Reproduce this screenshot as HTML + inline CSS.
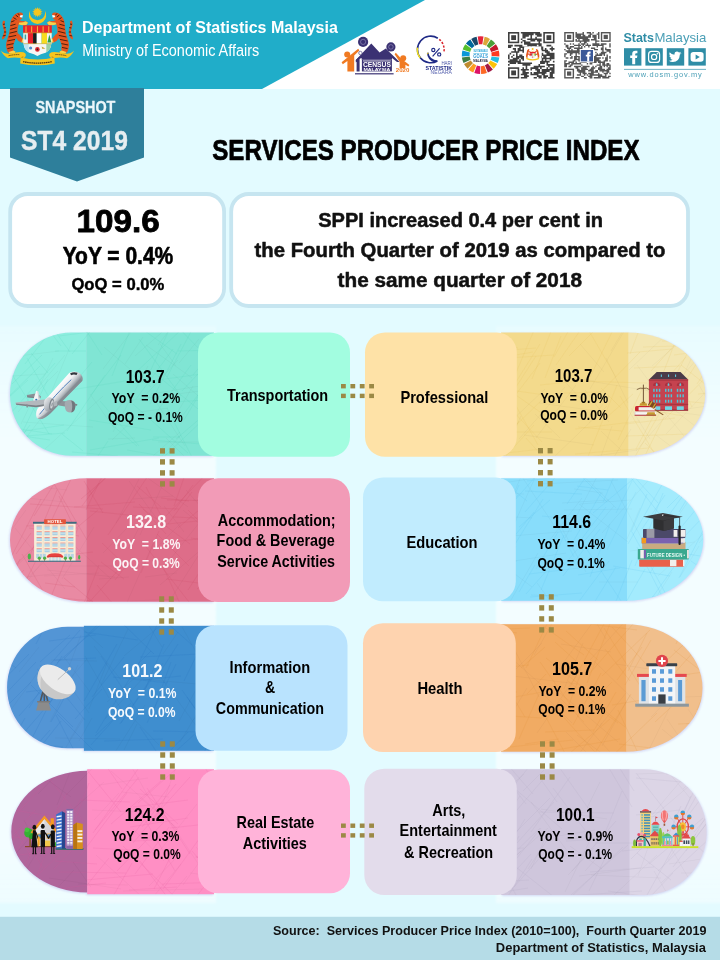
<!DOCTYPE html>
<html><head><meta charset="utf-8"><title>Services Producer Price Index</title>
<style>
html,body{margin:0;padding:0;background:#e3fbff;}
body{width:720px;height:960px;overflow:hidden;}
svg{display:block;font-family:"Liberation Sans", sans-serif;}
text{font-family:"Liberation Sans", sans-serif;}
</style></head><body>
<svg width="720" height="960" viewBox="0 0 720 960">
<g opacity="0.999">
<defs>
<filter id="soft" x="-10%" y="-20%" width="120%" height="140%"><feGaussianBlur stdDeviation="3"/></filter>
<filter id="soft2" x="-10%" y="-20%" width="120%" height="140%"><feGaussianBlur stdDeviation="1.3"/></filter>
<linearGradient id="strip" x1="0" y1="0" x2="0" y2="1"><stop offset="0" stop-color="#fff" stop-opacity="0.18"/><stop offset="0.2" stop-color="#fff" stop-opacity="0.58"/><stop offset="0.9" stop-color="#fff" stop-opacity="0.58"/><stop offset="1" stop-color="#fff" stop-opacity="0.4"/></linearGradient>
</defs>
<rect x="0" y="0" width="720" height="960" fill="#e3fbff"/>
<rect x="0" y="0" width="720" height="89" fill="#ffffff"/>
<polygon points="0,0 425,0 262,89 0,89" fill="#20adc9"/>
<text x="82.00" y="32.5" font-size="17" font-weight="bold" fill="#fff" textLength="255.90" lengthAdjust="spacingAndGlyphs" xml:space="preserve">Department of Statistics Malaysia</text>
<text x="82.18" y="55.7" font-size="16.7" font-weight="normal" fill="#fff" textLength="177.07" lengthAdjust="spacingAndGlyphs" xml:space="preserve">Ministry of Economic Affairs</text>
<polygon points="10,88 144,88 144,157.5 77,181.5 10,157.5" fill="#2e7f9b"/>
<text x="35.43" y="112.5" font-size="16.7" font-weight="bold" fill="#eaf6fa" stroke="#eaf6fa" stroke-width="0.3" stroke-linejoin="round" textLength="79.95" lengthAdjust="spacingAndGlyphs" xml:space="preserve">SNAPSHOT</text>
<text x="21.12" y="149.6" font-size="26.8" font-weight="bold" fill="#e6eef1" stroke="#e6eef1" stroke-width="0.4" stroke-linejoin="round" textLength="106.80" lengthAdjust="spacingAndGlyphs" xml:space="preserve">ST4 2019</text>
<text x="212.27" y="160" font-size="29.4" font-weight="bold" fill="#000" stroke="#000" stroke-width="0.7" stroke-linejoin="round" textLength="427.26" lengthAdjust="spacingAndGlyphs" xml:space="preserve">SERVICES PRODUCER PRICE INDEX</text>
<rect x="10.2" y="194" width="213.9" height="112" rx="17.5" fill="#fff" stroke="#c6e5f0" stroke-width="3.8"/>
<rect x="231.2" y="194" width="456.8" height="112" rx="17.5" fill="#fff" stroke="#c6e5f0" stroke-width="3.8"/>
<text x="76.62" y="232.3" font-size="30.6" font-weight="bold" fill="#000" stroke="#000" stroke-width="0.8" stroke-linejoin="round" textLength="83.10" lengthAdjust="spacingAndGlyphs" xml:space="preserve">109.6</text>
<text x="62.67" y="264.3" font-size="23.8" font-weight="bold" fill="#000" stroke="#000" stroke-width="0.6" stroke-linejoin="round" textLength="110.62" lengthAdjust="spacingAndGlyphs" xml:space="preserve">YoY = 0.4%</text>
<text x="71.41" y="290.3" font-size="17.4" font-weight="bold" fill="#000" stroke="#000" stroke-width="0.45" stroke-linejoin="round" textLength="92.91" lengthAdjust="spacingAndGlyphs" xml:space="preserve">QoQ = 0.0%</text>
<text x="318.24" y="226.7" font-size="20" font-weight="bold" fill="#111" stroke="#111" stroke-width="0.5" stroke-linejoin="round" textLength="284.78" lengthAdjust="spacingAndGlyphs" xml:space="preserve">SPPI increased 0.4 per cent in</text>
<text x="254.55" y="256.8" font-size="20" font-weight="bold" fill="#111" stroke="#111" stroke-width="0.5" stroke-linejoin="round" textLength="410.86" lengthAdjust="spacingAndGlyphs" xml:space="preserve">the Fourth Quarter of 2019 as compared to</text>
<text x="337.55" y="287" font-size="20" font-weight="bold" fill="#111" stroke="#111" stroke-width="0.5" stroke-linejoin="round" textLength="244.42" lengthAdjust="spacingAndGlyphs" xml:space="preserve">the same quarter of 2018</text>
<rect x="-10" y="326" width="226" height="577" fill="url(#strip)" filter="url(#soft2)"/>
<rect x="496" y="326" width="234" height="577" fill="url(#strip)" filter="url(#soft2)"/>
<g filter="url(#soft2)" opacity="0.42" fill="#a9a3e6" transform="translate(-0.9 0.9)"><path d="M86.7,332.5 L71.65,332.5 A61.65,61.65 0 0 0 71.65,455.8 L86.7,455.8 Z"/><rect x="86.4" y="332.5" width="127.6" height="123.30000000000001"/></g>
<clipPath id="cL0"><path d="M86.7,332.5 L71.65,332.5 A61.65,61.65 0 0 0 71.65,455.8 L86.7,455.8 Z"/><rect x="86.4" y="332.5" width="127.6" height="123.30000000000001"/></clipPath>
<path d="M86.7,332.5 L71.65,332.5 A61.65,61.65 0 0 0 71.65,455.8 L86.7,455.8 Z" fill="#8deedf"/><rect x="86.4" y="332.5" width="127.6" height="123.30000000000001" fill="#80e5d4"/>
<g clip-path="url(#cL0)"><path d="M10,414L55,363M8,398L28,380M178,351L252,349M90,450L159,438M16,435L50,440M8,368L49,434M136,399L173,349M152,440L213,445M193,375L211,353M133,404L188,453M59,336L90,332M149,374L175,317M132,376L182,329M-6,361L24,356M91,395L121,355M167,377L204,307M26,439L59,472M43,322L61,346M62,434L83,451M173,402L206,400M27,358L51,401M-7,412L40,366M184,420L203,388M1,464L30,425M112,425L137,446M128,384L202,374M182,391L227,343M112,376L134,320M202,439L226,392M131,321L177,354M12,384L42,355M22,433L48,379M55,351L86,351M153,437L180,437M197,352L246,351M47,320L70,352M2,426L52,434M170,319L206,356M156,413L191,365M150,404L181,344M31,353L48,373M80,321L102,355M176,439L210,410M89,420L151,430M100,401L139,446M25,364L57,323M204,410L239,380M94,462L108,441M153,372L203,413M72,354L102,317M-1,438L65,433M67,431L105,375M-4,407L13,364M183,415L218,368M72,452L118,456M53,393L131,380M-9,436L64,425M150,470L205,418M167,408L197,467M200,379L218,351M59,401L92,362M139,339L181,396M-6,399L19,360M127,450L191,461" stroke="#48cdb8" stroke-width="0.6" fill="none" opacity="0.25"/><path d="M-6,359L59,351M90,394L114,428M114,413L132,393M158,345L174,324M-4,377L45,374M160,344L176,366M156,402L185,446M140,401L178,360M18,412L65,355M112,440L134,419M-2,474L46,412M173,374L220,415M103,369L147,311M45,449L103,396M151,394L212,384M140,412L168,408M193,311L239,363M135,356L169,326M7,450L26,431M44,410L72,342M104,347L151,387M179,363L199,339M-9,399L9,423M146,345L192,378M173,420L193,386M144,464L180,432M108,439L135,438M154,465L181,435M34,395L58,371M158,442L218,442M21,424L53,358M113,432L148,366M132,400L200,391M166,438L195,467M23,422L93,427M125,364L143,337" stroke="#201030" stroke-width="0.6" fill="none" opacity="0.05"/></g>
<rect x="198" y="332.5" width="152" height="124.25" rx="20" fill="#a2fde0"/>
<g filter="url(#soft2)" opacity="0.42" fill="#a9a3e6" transform="translate(0.9 0.9)"><path d="M628,332.5 A77.30,61.65 0 0 1 705.3,394.15 A77.30,61.65 0 0 1 628,455.8 Z"/><rect x="501" y="332.5" width="127.3" height="123.30000000000001"/></g>
<clipPath id="cR0"><path d="M628,332.5 A77.30,61.65 0 0 1 705.3,394.15 A77.30,61.65 0 0 1 628,455.8 Z"/><rect x="501" y="332.5" width="127.3" height="123.30000000000001"/></clipPath>
<path d="M628,332.5 A77.30,61.65 0 0 1 705.3,394.15 A77.30,61.65 0 0 1 628,455.8 Z" fill="#f3e6b2"/><rect x="501" y="332.5" width="127.3" height="123.30000000000001" fill="#f3da8c"/>
<g clip-path="url(#cR0)"><path d="M470,363L533,352M626,424L675,418M556,365L584,325M677,377L692,407M651,371L688,330M681,365L744,415M591,402L640,352M510,387L535,328M639,408L683,416M526,438L551,466M645,443L664,461M510,350L536,348M606,418L633,394M626,436L689,434M481,344L518,348M487,477L534,425M482,477L519,421M532,379L556,319M674,355L726,348M495,432L552,432M627,353L672,349M578,427L622,431M503,386L550,419M575,454L649,448M545,378L561,336M511,397L538,445M477,360L554,355M590,377L614,328M682,401L714,404M655,394L674,345M540,385L589,380M698,394L729,391M618,440L643,387M589,331L616,377M506,453L542,449M628,469L667,400M574,381L647,383M494,423L540,363M569,356L610,315M482,411L509,348M636,449L671,383M507,396L540,344M697,384L719,351M665,419L718,365M633,480L664,417M482,386L545,395M508,406L542,442M488,408L508,432M505,404L536,356M634,368L680,366M667,392L688,352M643,347L676,346M662,341L728,341M630,354L641,325M620,396L656,456M601,388L621,408M663,383L686,357M564,393L601,392M683,385L722,323M587,459L617,385M671,452L706,417M511,430L546,396M575,429L640,421M554,357L580,310" stroke="#e2bd50" stroke-width="0.6" fill="none" opacity="0.25"/><path d="M636,451L666,416M539,403L597,411M535,414L560,438M611,351L624,329M629,370L670,331M699,385L728,436M659,413L721,404M590,389L629,323M601,431L621,450M644,387L684,436M652,366L708,318M580,344L604,372M631,408L650,439M600,480L631,429M567,377L594,381M637,365L666,404M519,439L565,387M589,381L650,391M536,438L576,385M552,459L607,406M524,435L594,445M508,424L545,389M666,434L716,381M553,369L580,398M682,379L699,341M606,358L628,403M585,390L609,422M581,458L637,450M597,467L612,426M490,488L521,416M656,435L698,467M644,418L666,385M667,404L709,437M677,382L698,358M589,423L609,396M661,410L706,416" stroke="#201030" stroke-width="0.6" fill="none" opacity="0.05"/></g>
<rect x="365" y="332.5" width="151.79999999999995" height="124.25" rx="20" fill="#fee2a7"/>
<g filter="url(#soft2)" opacity="0.42" fill="#a9a3e6" transform="translate(-0.9 0.9)"><path d="M86.7,478.3 A76.70,61.70 0 0 0 10,540.00 A76.70,61.70 0 0 0 86.7,601.7 Z"/><rect x="86.4" y="478.3" width="127.6" height="123.40000000000003"/></g>
<clipPath id="cL1"><path d="M86.7,478.3 A76.70,61.70 0 0 0 10,540.00 A76.70,61.70 0 0 0 86.7,601.7 Z"/><rect x="86.4" y="478.3" width="127.6" height="123.40000000000003"/></clipPath>
<path d="M86.7,478.3 A76.70,61.70 0 0 0 10,540.00 A76.70,61.70 0 0 0 86.7,601.7 Z" fill="#e98aa3"/><rect x="86.4" y="478.3" width="127.6" height="123.40000000000003" fill="#de6d89"/>
<g clip-path="url(#cL1)"><path d="M108,535L152,470M172,542L239,534M147,526L198,521M74,507L135,502M34,516L69,460M68,535L98,510M64,578L118,623M167,500L222,501M166,516L210,470M178,528L236,478M188,510L208,530M139,504L166,534M38,549L72,477M168,524L192,492M51,597L78,528M137,486L161,507M102,543L128,568M29,528L79,536M86,510L110,460M-18,615L24,570M-4,612L20,559M22,588L44,545M197,589L242,548M89,496L112,470M16,554L31,533M10,580L39,620M82,506L99,483M22,554L52,607M133,507L179,509M73,620L123,565M53,482L87,540M163,567L184,612M4,576L37,544M26,526L78,524M28,595L93,601M30,504L103,509M35,559L93,552M143,509L190,544M166,579L199,583M143,543L189,602M174,511L193,485M115,580L133,557M97,585L119,611M174,506L187,469M188,590L231,523M157,534L189,566M191,538L238,546M7,565L41,499M8,520L48,457M101,562L124,579M161,498L189,501M146,487L167,527M173,517L221,519M-13,485L31,490M59,496L75,529M45,583L75,587M141,573L159,531M81,499L113,472M210,598L227,575M90,511L147,517M75,626L99,565M84,481L103,513M28,560L57,490M-2,524L41,482" stroke="#c8405f" stroke-width="0.6" fill="none" opacity="0.25"/><path d="M62,579L94,527M186,490L210,517M162,613L198,556M140,535L163,484M127,463L188,507M39,487L67,490M-1,606L51,555M128,549L144,518M-3,518L36,473M125,607L155,539M164,506L184,532M116,523L139,479M26,577L61,573M208,539L226,505M193,500L231,501M15,528L65,589M183,510L232,551M17,595L45,558M160,585L203,548M47,570L115,577M21,581L46,612M130,601L178,599M99,579L129,577M145,577L177,573M153,551L181,523M57,530L111,579M62,566L140,566M133,499L173,496M8,574L27,556M-12,575L16,576M7,536L26,510M168,562L207,513M-13,494L65,502M129,481L157,519M44,576L99,573M103,553L128,527" stroke="#201030" stroke-width="0.6" fill="none" opacity="0.05"/></g>
<rect x="198" y="478.25" width="152" height="123.75" rx="20" fill="#f29bb7"/>
<g filter="url(#soft2)" opacity="0.42" fill="#a9a3e6" transform="translate(0.9 0.9)"><path d="M626.7,478.3 A76.60,61.25 0 0 1 703.3,539.55 A76.60,61.25 0 0 1 626.7,600.8 Z"/><rect x="501" y="478.3" width="126.00000000000004" height="122.49999999999994"/></g>
<clipPath id="cR1"><path d="M626.7,478.3 A76.60,61.25 0 0 1 703.3,539.55 A76.60,61.25 0 0 1 626.7,600.8 Z"/><rect x="501" y="478.3" width="126.00000000000004" height="122.49999999999994"/></clipPath>
<path d="M626.7,478.3 A76.60,61.25 0 0 1 703.3,539.55 A76.60,61.25 0 0 1 626.7,600.8 Z" fill="#a3ebfd"/><rect x="501" y="478.3" width="126.00000000000004" height="122.49999999999994" fill="#88ddfb"/>
<g clip-path="url(#cR1)"><path d="M499,508L513,529M574,608L609,561M679,591L705,592M620,461L658,503M578,575L620,568M635,566L663,493M536,569L558,532M590,577L610,524M652,597L679,594M650,573L677,527M519,592L535,565M663,550L731,561M616,513L632,481M531,595L558,596M649,543L689,487M519,527L550,500M679,512L717,449M603,502L615,474M683,616L727,562M471,500L511,503M574,540L601,493M567,504L592,468M697,564L719,539M668,619L716,561M530,597L582,593M525,491L582,494M579,474L607,502M512,549L543,499M667,508L688,487M593,513L645,469M529,574L596,566M613,609L632,560M542,516L569,519M563,576L600,529M527,481L565,476M631,532L647,494M526,594L549,568M617,618L645,569M498,533L519,485M691,561L724,584M695,503L717,477M679,578L709,519M582,542L623,604M496,522L542,469M684,537L703,517M642,529L665,495M508,544L534,512M554,518L574,557M577,486L608,490M613,566L670,576M491,594L512,558M647,605L676,564M628,474L669,526M577,545L606,507M575,634L616,567M632,532L668,598M607,550L636,492M478,462L527,501M541,590L564,535M628,544L663,483M476,548L518,495M669,542L697,508M525,512L567,464M637,547L664,600" stroke="#4fbdea" stroke-width="0.6" fill="none" opacity="0.25"/><path d="M539,484L618,480M512,498L527,462M602,533L653,475M549,541L582,498M562,503L609,500M563,456L616,508M554,514L586,572M488,607L516,546M680,577L699,546M462,492L524,494M580,504L631,500M481,515L532,518M611,481L643,541M700,521L719,487M658,576L716,522M647,612L672,572M490,566L517,561M579,504L628,542M599,582L638,582M574,489L603,493M519,472L555,527M490,555L532,587M507,607L538,553M514,561L566,553M668,531L689,500M564,565L614,506M512,529L542,462M458,489L537,478M564,510L632,509M537,583L556,609M482,592L500,548M630,551L695,542M565,538L600,471M627,539L640,508M699,543L717,523M511,536L572,531" stroke="#201030" stroke-width="0.6" fill="none" opacity="0.05"/></g>
<rect x="363" y="477.5" width="152.79999999999995" height="123.75" rx="20" fill="#c1ecfe"/>
<g filter="url(#soft2)" opacity="0.42" fill="#a9a3e6" transform="translate(-0.9 0.9)"><path d="M84.2,626.7 L67.80,626.7 A60.80,60.80 0 0 0 67.80,748.3 L84.2,748.3 Z"/><rect x="83.9" y="625.8" width="130.10000000000002" height="125.0"/></g>
<clipPath id="cL2"><path d="M84.2,626.7 L67.80,626.7 A60.80,60.80 0 0 0 67.80,748.3 L84.2,748.3 Z"/><rect x="83.9" y="625.8" width="130.10000000000002" height="125.0"/></clipPath>
<path d="M84.2,626.7 L67.80,626.7 A60.80,60.80 0 0 0 67.80,748.3 L84.2,748.3 Z" fill="#5395d5"/><rect x="83.9" y="625.8" width="130.10000000000002" height="125.0" fill="#3f8ecf"/>
<g clip-path="url(#cL2)"><path d="M19,716L42,690M147,723L176,664M3,644L29,620M92,697L124,657M95,736L131,703M113,677L168,683M121,723L163,663M104,741L163,739M201,657L222,637M29,708L62,656M-17,644L16,668M143,680L181,676M24,754L55,693M182,690L218,741M40,676L80,630M91,745L118,715M140,727L158,754M101,656L139,713M184,681L219,609M198,651L231,609M209,708L221,681M187,697L224,749M157,677L178,644M144,692L164,644M-27,711L29,654M193,775L221,718M40,662L70,635M130,672L151,651M36,644L52,613M203,766L235,729M153,712L171,662M49,641L96,635M37,744L63,747M96,733L130,678M84,632L138,640M57,714L107,764M51,722L66,695M64,659L106,616M40,665L85,720M15,779L61,721M171,750L188,732M120,724L152,677M21,736L67,683M84,701L117,644M-6,772L25,718M31,685L73,727M120,621L154,654M163,763L219,712M-25,738L31,682M183,774L239,722M57,663L107,619M-17,742L31,741M-10,710L36,662M153,731L205,732M26,757L50,730M140,657L219,653M75,719L102,689M26,692L73,686M136,669L157,625M212,687L235,628M37,669L62,688M56,715L85,772M54,660L96,658M157,614L192,645" stroke="#1f6cbd" stroke-width="0.6" fill="none" opacity="0.25"/><path d="M55,738L120,739M85,656L109,698M138,608L162,647M200,661L237,662M-10,625L21,629M44,783L84,718M64,657L90,692M182,627L208,673M45,708L87,659M159,675L200,731M69,741L83,717M180,742L201,707M179,721L213,658M-11,752L10,714M163,654L178,632M0,725L41,668M68,683L89,713M105,719L145,676M19,672L39,647M103,771L145,705M110,692L125,715M59,693L81,635M79,741L92,718M130,678L197,684M193,720L229,689M124,750L137,724M89,709L107,663M127,712L159,745M50,722L78,665M101,685L128,629M51,660L97,661M107,702L137,676M94,646L121,680M60,608L103,648M200,693L245,697M124,656L161,625" stroke="#201030" stroke-width="0.6" fill="none" opacity="0.05"/></g>
<rect x="195.5" y="625.25" width="152.0" height="125.5" rx="20" fill="#b9e3fe"/>
<g filter="url(#soft2)" opacity="0.42" fill="#a9a3e6" transform="translate(0.9 0.9)"><path d="M625.8,624.2 A76.70,63.75 0 0 1 702.5,687.95 A76.70,63.75 0 0 1 625.8,751.7 Z"/><rect x="501" y="624.2" width="125.09999999999995" height="127.5"/></g>
<clipPath id="cR2"><path d="M625.8,624.2 A76.70,63.75 0 0 1 702.5,687.95 A76.70,63.75 0 0 1 625.8,751.7 Z"/><rect x="501" y="624.2" width="125.09999999999995" height="127.5"/></clipPath>
<path d="M625.8,624.2 A76.70,63.75 0 0 1 702.5,687.95 A76.70,63.75 0 0 1 625.8,751.7 Z" fill="#f1bf8c"/><rect x="501" y="624.2" width="125.09999999999995" height="127.5" fill="#f1ab63"/>
<g clip-path="url(#cR2)"><path d="M636,707L684,706M481,691L517,692M543,626L584,655M570,753L610,719M493,673L507,642M570,687L605,622M678,724L736,721M504,699L548,691M605,649L630,681M688,737L733,678M519,739L539,694M607,761L657,713M527,694L546,674M663,782L696,713M590,624L637,630M654,679L725,669M590,704L612,682M676,740L727,687M696,736L714,705M510,747L573,740M474,627L517,633M458,631L530,628M561,699L584,722M655,722L682,697M540,706L568,759M555,642L576,661M612,627L646,664M589,674L633,624M684,755L727,709M485,733L499,757M568,707L581,673M480,670L529,665M487,630L502,657M625,685L651,640M545,732L594,730M568,681L625,727M676,644L687,616M595,706L618,723M618,710L651,781M472,663L513,728M566,631L598,660M510,716L542,718M521,668L545,647M556,750L620,739M617,680L642,647M559,712L610,769M656,671L707,622M573,725L601,673M546,658L590,693M525,744L559,739M587,683L611,621M593,732L616,692M612,705L666,696M697,710L721,652M665,684L703,641M526,668L547,624M674,650L727,691M540,662L579,717M602,676L650,630M619,744L675,751M592,758L631,694M604,628L642,689M628,671L647,633M509,691L525,717" stroke="#e08a30" stroke-width="0.6" fill="none" opacity="0.25"/><path d="M513,676L578,684M636,776L670,707M667,719L699,766M662,729L703,763M496,709L512,667M537,733L581,669M686,724L724,721M577,716L622,765M566,732L600,766M651,717L688,679M602,746L630,695M684,759L722,710M654,698L714,696M560,693L618,742M616,664L690,675M508,637L539,697M594,661L637,703M494,643L545,688M579,754L602,723M561,666L593,622M497,738L527,688M577,735L622,768M483,699L502,667M499,686L542,643M667,759L709,706M564,689L583,643M701,727L721,767M590,660L638,607M688,709L710,741M593,617L606,639M686,744L724,682M534,655L556,617M561,644L611,652M544,695L572,723M672,598L713,653M600,726L626,693" stroke="#201030" stroke-width="0.6" fill="none" opacity="0.05"/></g>
<rect x="363" y="623.25" width="152.79999999999995" height="128.75" rx="20" fill="#fed3af"/>
<g filter="url(#soft2)" opacity="0.42" fill="#a9a3e6" transform="translate(-0.9 0.9)"><path d="M87.5,770.8 A76.20,60.85 0 0 0 11.3,831.65 A76.20,60.85 0 0 0 87.5,892.5 Z"/><rect x="87.2" y="769.2" width="126.8" height="125.0"/></g>
<clipPath id="cL3"><path d="M87.5,770.8 A76.20,60.85 0 0 0 11.3,831.65 A76.20,60.85 0 0 0 87.5,892.5 Z"/><rect x="87.2" y="769.2" width="126.8" height="125.0"/></clipPath>
<path d="M87.5,770.8 A76.20,60.85 0 0 0 11.3,831.65 A76.20,60.85 0 0 0 87.5,892.5 Z" fill="#b0659b"/><rect x="87.2" y="769.2" width="126.8" height="125.0" fill="#ff8fc4"/>
<g clip-path="url(#cL3)"><path d="M198,850L241,802M133,843L161,810M-20,885L42,893M18,855L85,848M163,889L207,828M140,789L178,824M11,900L35,842M142,827L176,784M33,887L48,846M38,842L67,793M133,835L170,785M7,809L76,820M68,839L89,783M59,872L126,873M46,855L69,814M80,856L127,793M98,754L122,789M135,874L169,827M85,880L153,874M201,781L242,780M140,861L186,922M5,846L35,810M103,914L132,863M-10,869L42,912M133,807L188,800M55,861L97,864M147,788L190,854M202,841L218,804M123,846L180,902M154,889L172,854M141,813L175,871M192,851L219,882M111,824L161,781M117,871L164,822M-17,833L30,839M-22,829L30,769M130,827L188,818M132,841L161,840M54,869L71,851M208,846L224,866M-11,844L35,878M12,899L59,855M158,808L179,832M162,884L227,882M129,890L177,887M188,907L215,873M138,803L185,761M61,917L109,858M93,833L138,769M35,761L84,822M-7,795L31,856M202,762L228,809M82,764L121,812M152,819L190,777M80,800L130,802M196,857L229,862M16,852L34,824M170,828L226,822M93,848L130,850M32,892L106,883M30,846L43,868M95,830L139,777M8,823L41,788M59,842L81,798" stroke="#e0569a" stroke-width="0.6" fill="none" opacity="0.25"/><path d="M96,855L141,896M49,781L71,797M92,810L140,812M111,771L167,820M196,847L239,896M70,812L104,782M78,884L128,885M22,787L40,767M-3,833L22,768M136,917L181,864M94,820L119,793M158,853L197,804M38,794L81,749M57,805L72,767M123,891L202,889M11,795L22,772M171,823L203,871M122,792L169,797M133,829L164,861M190,873L222,877M167,900L187,876M66,795L113,748M73,862L91,887M50,896L74,870M24,820L40,852M99,785L148,778M25,872L44,840M195,857L250,857M49,878L121,889M149,886L177,857M198,864L234,833M-0,872L37,829M183,885L215,840M161,808L182,751M139,797L177,828M131,766L156,810" stroke="#201030" stroke-width="0.6" fill="none" opacity="0.05"/></g>
<rect x="198" y="769.5" width="152" height="123.70000000000005" rx="20" fill="#ffb3d9"/>
<g filter="url(#soft2)" opacity="0.42" fill="#a9a3e6" transform="translate(0.9 0.9)"><path d="M629.2,769.2 L643.80,769.2 A62.90,62.90 0 0 1 643.80,895 L629.2,895 Z"/><rect x="501" y="769.2" width="128.50000000000006" height="125.79999999999995"/></g>
<clipPath id="cR3"><path d="M629.2,769.2 L643.80,769.2 A62.90,62.90 0 0 1 643.80,895 L629.2,895 Z"/><rect x="501" y="769.2" width="128.50000000000006" height="125.79999999999995"/></clipPath>
<path d="M629.2,769.2 L643.80,769.2 A62.90,62.90 0 0 1 643.80,895 L629.2,895 Z" fill="#dcd5e6"/><rect x="501" y="769.2" width="128.50000000000006" height="125.79999999999995" fill="#cfc6dc"/>
<g clip-path="url(#cR3)"><path d="M492,896L531,854M637,853L671,880M595,843L645,843M542,781L557,802M487,879L525,819M507,860L554,897M531,832L570,777M570,896L628,845M631,859L664,826M500,879L541,828M511,817L546,776M690,884L743,891M499,910L532,859M661,883L709,839M677,830L710,772M458,851L524,848M501,757L533,794M693,842L728,875M496,858L530,921M495,853L550,798M539,812L614,813M565,896L642,891M514,887L545,852M605,833L622,791M514,788L562,829M673,867L711,818M702,899L728,874M680,914L712,867M523,791L558,756M666,774L692,772M667,838L681,806M491,758L526,804M510,857L540,828M567,901L623,847M701,803L713,777M636,815L680,810M676,826L706,768M691,758L742,813M622,851L673,846M658,871L696,834M552,757L588,808M609,751L634,791M677,829L691,796M608,891L656,898M482,824L529,767M690,813L731,759M553,788L585,830M636,778L694,783M572,871L616,821M606,763L632,807M694,832L724,798M590,872L654,867M649,864L703,818M566,841L606,839M466,884L529,880M636,773L682,832M649,898L673,873M686,851L706,824M463,904L521,851M641,906L673,848M493,884L519,836M589,891L607,854M454,900L528,888M517,843L554,802" stroke="#a99fba" stroke-width="0.6" fill="none" opacity="0.25"/><path d="M469,822L524,774M637,774L695,772M648,816L674,819M528,869L551,834M681,873L743,873M691,878L720,910M497,872L548,828M531,869L549,830M531,802L568,852M694,837L727,781M682,779L716,807M648,821L689,786M591,875L661,878M579,876L640,868M669,864L708,858M700,795L713,766M652,815L694,765M484,825L511,797M570,846L602,869M541,809L607,819M638,876L657,822M611,898L657,855M587,808L600,782M565,892L593,834M699,865L731,830M683,789L708,764M664,767L690,798M654,871L669,897M568,875L594,848M565,839L610,837M660,829L689,879M558,836L595,830M691,925L726,857M668,860L693,824M496,831L520,796M585,871L605,849" stroke="#201030" stroke-width="0.6" fill="none" opacity="0.05"/></g>
<rect x="364.3" y="768.75" width="152.49999999999994" height="126.25" rx="20" fill="#e3dceb"/>
<rect x="160.0" y="448.2" width="5" height="5.4" fill="#9b8945"/><rect x="169.6" y="448.2" width="5" height="5.4" fill="#9b8945"/><rect x="160.0" y="459.2" width="5" height="5.4" fill="#9b8945"/><rect x="169.6" y="459.2" width="5" height="5.4" fill="#9b8945"/><rect x="160.0" y="470.2" width="5" height="5.4" fill="#9b8945"/><rect x="169.6" y="470.2" width="5" height="5.4" fill="#9b8945"/><rect x="160.0" y="481.2" width="5" height="5.4" fill="#9b8945"/><rect x="169.6" y="481.2" width="5" height="5.4" fill="#9b8945"/>
<rect x="159.2" y="596.3" width="5" height="5.4" fill="#9b8945"/><rect x="168.8" y="596.3" width="5" height="5.4" fill="#9b8945"/><rect x="159.2" y="607.3" width="5" height="5.4" fill="#9b8945"/><rect x="168.8" y="607.3" width="5" height="5.4" fill="#9b8945"/><rect x="159.2" y="618.3" width="5" height="5.4" fill="#9b8945"/><rect x="168.8" y="618.3" width="5" height="5.4" fill="#9b8945"/><rect x="159.2" y="629.3" width="5" height="5.4" fill="#9b8945"/><rect x="168.8" y="629.3" width="5" height="5.4" fill="#9b8945"/>
<rect x="160.2" y="741.3" width="5" height="5.4" fill="#9b8945"/><rect x="169.8" y="741.3" width="5" height="5.4" fill="#9b8945"/><rect x="160.2" y="752.3" width="5" height="5.4" fill="#9b8945"/><rect x="169.8" y="752.3" width="5" height="5.4" fill="#9b8945"/><rect x="160.2" y="763.3" width="5" height="5.4" fill="#9b8945"/><rect x="169.8" y="763.3" width="5" height="5.4" fill="#9b8945"/><rect x="160.2" y="774.3" width="5" height="5.4" fill="#9b8945"/><rect x="169.8" y="774.3" width="5" height="5.4" fill="#9b8945"/>
<rect x="538.0" y="448.0" width="5" height="5.4" fill="#9b8945"/><rect x="547.6" y="448.0" width="5" height="5.4" fill="#9b8945"/><rect x="538.0" y="459.0" width="5" height="5.4" fill="#9b8945"/><rect x="547.6" y="459.0" width="5" height="5.4" fill="#9b8945"/><rect x="538.0" y="470.0" width="5" height="5.4" fill="#9b8945"/><rect x="547.6" y="470.0" width="5" height="5.4" fill="#9b8945"/><rect x="538.0" y="481.0" width="5" height="5.4" fill="#9b8945"/><rect x="547.6" y="481.0" width="5" height="5.4" fill="#9b8945"/>
<rect x="539.2" y="594.2" width="5" height="5.4" fill="#9b8945"/><rect x="548.8" y="594.2" width="5" height="5.4" fill="#9b8945"/><rect x="539.2" y="605.2" width="5" height="5.4" fill="#9b8945"/><rect x="548.8" y="605.2" width="5" height="5.4" fill="#9b8945"/><rect x="539.2" y="616.2" width="5" height="5.4" fill="#9b8945"/><rect x="548.8" y="616.2" width="5" height="5.4" fill="#9b8945"/><rect x="539.2" y="627.2" width="5" height="5.4" fill="#9b8945"/><rect x="548.8" y="627.2" width="5" height="5.4" fill="#9b8945"/>
<rect x="540.0" y="741.3" width="5" height="5.4" fill="#9b8945"/><rect x="549.6" y="741.3" width="5" height="5.4" fill="#9b8945"/><rect x="540.0" y="752.3" width="5" height="5.4" fill="#9b8945"/><rect x="549.6" y="752.3" width="5" height="5.4" fill="#9b8945"/><rect x="540.0" y="763.3" width="5" height="5.4" fill="#9b8945"/><rect x="549.6" y="763.3" width="5" height="5.4" fill="#9b8945"/><rect x="540.0" y="774.3" width="5" height="5.4" fill="#9b8945"/><rect x="549.6" y="774.3" width="5" height="5.4" fill="#9b8945"/>
<rect x="341.0" y="384.0" width="4.8" height="4.4" fill="#9b8945"/><rect x="341.0" y="393.7" width="4.8" height="4.4" fill="#9b8945"/><rect x="350.4" y="384.0" width="4.8" height="4.4" fill="#9b8945"/><rect x="350.4" y="393.7" width="4.8" height="4.4" fill="#9b8945"/><rect x="359.8" y="384.0" width="4.8" height="4.4" fill="#9b8945"/><rect x="359.8" y="393.7" width="4.8" height="4.4" fill="#9b8945"/><rect x="369.2" y="384.0" width="4.8" height="4.4" fill="#9b8945"/><rect x="369.2" y="393.7" width="4.8" height="4.4" fill="#9b8945"/>
<rect x="341.0" y="823.5" width="4.8" height="4.4" fill="#9b8945"/><rect x="341.0" y="833.2" width="4.8" height="4.4" fill="#9b8945"/><rect x="350.4" y="823.5" width="4.8" height="4.4" fill="#9b8945"/><rect x="350.4" y="833.2" width="4.8" height="4.4" fill="#9b8945"/><rect x="359.8" y="823.5" width="4.8" height="4.4" fill="#9b8945"/><rect x="359.8" y="833.2" width="4.8" height="4.4" fill="#9b8945"/><rect x="369.2" y="823.5" width="4.8" height="4.4" fill="#9b8945"/><rect x="369.2" y="833.2" width="4.8" height="4.4" fill="#9b8945"/>
<text x="125.73" y="382.7" font-size="17.8" font-weight="bold" fill="#000" textLength="38.90" lengthAdjust="spacingAndGlyphs" xml:space="preserve">103.7</text>
<text x="111.51" y="403.3" font-size="14.8" font-weight="bold" fill="#000" textLength="68.67" lengthAdjust="spacingAndGlyphs" xml:space="preserve">YoY  = 0.2%</text>
<text x="107.92" y="421.7" font-size="14.8" font-weight="bold" fill="#000" textLength="74.95" lengthAdjust="spacingAndGlyphs" xml:space="preserve">QoQ = - 0.1%</text>
<text x="227.00" y="401.3" font-size="16.4" font-weight="bold" fill="#000" textLength="101.20" lengthAdjust="spacingAndGlyphs" xml:space="preserve">Transportation</text>
<text x="554.66" y="382" font-size="17.8" font-weight="bold" fill="#000" textLength="37.65" lengthAdjust="spacingAndGlyphs" xml:space="preserve">103.7</text>
<text x="540.41" y="402.5" font-size="14.8" font-weight="bold" fill="#000" textLength="67.66" lengthAdjust="spacingAndGlyphs" xml:space="preserve">YoY  = 0.0%</text>
<text x="540.22" y="420.3" font-size="14.8" font-weight="bold" fill="#000" textLength="67.45" lengthAdjust="spacingAndGlyphs" xml:space="preserve">QoQ = 0.0%</text>
<text x="400.38" y="403" font-size="16.4" font-weight="bold" fill="#000" textLength="87.98" lengthAdjust="spacingAndGlyphs" xml:space="preserve">Professional</text>
<text x="126.00" y="527.5" font-size="17.8" font-weight="bold" fill="#fbf3f5" textLength="40.20" lengthAdjust="spacingAndGlyphs" xml:space="preserve">132.8</text>
<text x="112.31" y="548.7" font-size="14.8" font-weight="bold" fill="#fbf3f5" textLength="68.16" lengthAdjust="spacingAndGlyphs" xml:space="preserve">YoY  = 1.8%</text>
<text x="112.42" y="567.5" font-size="14.8" font-weight="bold" fill="#fbf3f5" textLength="67.45" lengthAdjust="spacingAndGlyphs" xml:space="preserve">QoQ = 0.3%</text>
<text x="217.77" y="525.5" font-size="16.4" font-weight="bold" fill="#000" textLength="117.92" lengthAdjust="spacingAndGlyphs" xml:space="preserve">Accommodation;</text>
<text x="216.60" y="546.3" font-size="16.4" font-weight="bold" fill="#000" textLength="118.26" lengthAdjust="spacingAndGlyphs" xml:space="preserve">Food &amp; Beverage</text>
<text x="217.28" y="567" font-size="16.4" font-weight="bold" fill="#000" textLength="117.80" lengthAdjust="spacingAndGlyphs" xml:space="preserve">Service Activities</text>
<text x="552.31" y="527.5" font-size="17.8" font-weight="bold" fill="#000" textLength="38.89" lengthAdjust="spacingAndGlyphs" xml:space="preserve">114.6</text>
<text x="537.61" y="548.7" font-size="14.8" font-weight="bold" fill="#000" textLength="67.86" lengthAdjust="spacingAndGlyphs" xml:space="preserve">YoY  = 0.4%</text>
<text x="537.42" y="567.8" font-size="14.8" font-weight="bold" fill="#000" textLength="67.45" lengthAdjust="spacingAndGlyphs" xml:space="preserve">QoQ = 0.1%</text>
<text x="406.58" y="548" font-size="16.4" font-weight="bold" fill="#000" textLength="70.93" lengthAdjust="spacingAndGlyphs" xml:space="preserve">Education</text>
<text x="122.30" y="676.5" font-size="17.8" font-weight="bold" fill="#f5f9fd" textLength="40.10" lengthAdjust="spacingAndGlyphs" xml:space="preserve">101.2</text>
<text x="108.11" y="697.5" font-size="14.8" font-weight="bold" fill="#f5f9fd" textLength="68.37" lengthAdjust="spacingAndGlyphs" xml:space="preserve">YoY  = 0.1%</text>
<text x="107.92" y="716.5" font-size="14.8" font-weight="bold" fill="#f5f9fd" textLength="67.55" lengthAdjust="spacingAndGlyphs" xml:space="preserve">QoQ = 0.0%</text>
<text x="229.58" y="672.5" font-size="16.4" font-weight="bold" fill="#000" textLength="80.62" lengthAdjust="spacingAndGlyphs" xml:space="preserve">Information</text>
<text x="265.06" y="693.3" font-size="16.4" font-weight="bold" fill="#000" textLength="10.21" lengthAdjust="spacingAndGlyphs" xml:space="preserve">&amp;</text>
<text x="215.85" y="714" font-size="16.4" font-weight="bold" fill="#000" textLength="108.14" lengthAdjust="spacingAndGlyphs" xml:space="preserve">Communication</text>
<text x="551.99" y="675" font-size="17.8" font-weight="bold" fill="#000" textLength="40.36" lengthAdjust="spacingAndGlyphs" xml:space="preserve">105.7</text>
<text x="538.51" y="695.7" font-size="14.8" font-weight="bold" fill="#000" textLength="67.86" lengthAdjust="spacingAndGlyphs" xml:space="preserve">YoY  = 0.2%</text>
<text x="538.32" y="713.7" font-size="14.8" font-weight="bold" fill="#000" textLength="67.15" lengthAdjust="spacingAndGlyphs" xml:space="preserve">QoQ = 0.1%</text>
<text x="417.38" y="693.8" font-size="16.4" font-weight="bold" fill="#000" textLength="45.14" lengthAdjust="spacingAndGlyphs" xml:space="preserve">Health</text>
<text x="124.81" y="821.3" font-size="17.8" font-weight="bold" fill="#000" textLength="39.79" lengthAdjust="spacingAndGlyphs" xml:space="preserve">124.2</text>
<text x="111.51" y="841.2" font-size="14.8" font-weight="bold" fill="#000" textLength="67.86" lengthAdjust="spacingAndGlyphs" xml:space="preserve">YoY  = 0.3%</text>
<text x="113.32" y="859.2" font-size="14.8" font-weight="bold" fill="#000" textLength="67.35" lengthAdjust="spacingAndGlyphs" xml:space="preserve">QoQ = 0.0%</text>
<text x="236.60" y="828" font-size="16.4" font-weight="bold" fill="#000" textLength="77.56" lengthAdjust="spacingAndGlyphs" xml:space="preserve">Real Estate</text>
<text x="242.77" y="848.8" font-size="16.4" font-weight="bold" fill="#000" textLength="64.11" lengthAdjust="spacingAndGlyphs" xml:space="preserve">Activities</text>
<text x="556.04" y="821.3" font-size="17.8" font-weight="bold" fill="#000" textLength="38.55" lengthAdjust="spacingAndGlyphs" xml:space="preserve">100.1</text>
<text x="537.61" y="841.2" font-size="14.8" font-weight="bold" fill="#000" textLength="75.56" lengthAdjust="spacingAndGlyphs" xml:space="preserve">YoY  = - 0.9%</text>
<text x="538.33" y="859.2" font-size="14.8" font-weight="bold" fill="#000" textLength="73.84" lengthAdjust="spacingAndGlyphs" xml:space="preserve">QoQ = - 0.1%</text>
<text x="432.27" y="815.5" font-size="16.4" font-weight="bold" fill="#000" textLength="33.08" lengthAdjust="spacingAndGlyphs" xml:space="preserve">Arts,</text>
<text x="399.60" y="836.3" font-size="16.4" font-weight="bold" fill="#000" textLength="97.27" lengthAdjust="spacingAndGlyphs" xml:space="preserve">Entertainment</text>
<text x="404.05" y="857.5" font-size="16.4" font-weight="bold" fill="#000" textLength="89.15" lengthAdjust="spacingAndGlyphs" xml:space="preserve">&amp; Recreation</text>
<rect x="0" y="916.8" width="720" height="43.2" fill="#b5dce7"/>
<text x="272.96" y="935" font-size="12.8" font-weight="bold" fill="#111" textLength="433.50" lengthAdjust="spacingAndGlyphs" xml:space="preserve">Source:  Services Producer Price Index (2010=100),  Fourth Quarter 2019</text>
<text x="495.84" y="951.7" font-size="12.8" font-weight="bold" fill="#111" textLength="210.08" lengthAdjust="spacingAndGlyphs" xml:space="preserve">Department of Statistics, Malaysia</text>
<!-- crest --><g>
<path d="M30.2,10.45 A8.7,8.7 0 1 0 44.8,10.45 A7.6,7.6 0 1 1 30.2,10.45 Z" fill="#f6c51d"/>
<polygon points="37.4,6.9 38.1,9.1 39.7,7.4 39.4,9.7 41.5,8.9 40.3,10.8 42.6,11.0 40.6,12.2 42.6,13.4 40.3,13.6 41.5,15.5 39.4,14.7 39.7,17.0 38.1,15.3 37.4,17.5 36.7,15.3 35.1,17.0 35.4,14.7 33.3,15.5 34.5,13.6 32.2,13.4 34.2,12.2 32.2,11.0 34.5,10.8 33.3,8.9 35.4,9.7 35.1,7.4 36.7,9.1" fill="#f6c51d"/>
<g>
<path d="M3.4,20.5 Q1.6,23 3,27 Q5,31.5 3,35.5 Q1.2,38 2.6,39.6 Q6,37.5 6.2,33 Q6.2,29.5 5,27 Q4,23.5 5.2,21.5 Z" fill="#e4561f"/>
<path d="M7.6,51.8 Q4.8,46 7,40 Q9.6,33.5 10,27 Q10,19 14.5,14.8 Q17.5,12 21,12.6 Q23.4,13.2 22.8,15.4 L20.4,16.8 L22.2,18.2 Q21,20.2 18.8,20 Q21.8,21.5 25.8,21.2 L28,22.8 L26.4,25 Q21.6,25.6 18.6,24.2 Q17.2,29 17.6,33 Q20.4,34.8 22.6,38.6 L25.4,39.4 L25,42.6 L21.4,42.4 Q17.6,41 16,38 Q14.4,42 13.2,45.4 Q14.6,48.4 13.2,50.4 L15.4,51.4 L14.8,53.6 L9.6,53.4 Z" fill="#e4561f"/>
<path d="M18.6,24.2 Q21.6,25.6 26.4,25 L28,22.8 L25.8,21.2 Q23,22.6 19.4,22.4 Z M13.2,50.4 L15.4,51.4 L14.8,53.6 L9.6,53.4 L8.6,52 Z M21.4,42.4 L25,42.6 L25.4,39.4 L22.6,38.6 Z" fill="#f8d24a"/>
<path d="M19.6,15.4 L22.8,15 L22.4,17.6 L20.2,17.2 Z" fill="#fff"/>
<g stroke="#2a1208" stroke-width="0.8" fill="none">
<path d="M11,22 L14.5,20.6 M10.4,25.6 L15.6,24.2 M10.2,29.4 L16.6,27.6 M9.6,33.2 L16.8,31.4 M8.6,37 L16.2,35.4 M7.4,41 L15,39.4 M6.8,45 L13.6,43.6 M7.4,48.6 L13,47.4 M13.4,17.6 L16.4,19.4 M15.6,15 L18.2,17 M18,13.4 L19.6,15.4 M3,24.4 L5,24 M3.6,28 L5.8,27.6 M4,32 L6.2,32 M2.8,36 L5.6,35.4"/>
</g></g>
<g transform="translate(75 0) scale(-1 1)"><g>
<path d="M3.4,20.5 Q1.6,23 3,27 Q5,31.5 3,35.5 Q1.2,38 2.6,39.6 Q6,37.5 6.2,33 Q6.2,29.5 5,27 Q4,23.5 5.2,21.5 Z" fill="#e4561f"/>
<path d="M7.6,51.8 Q4.8,46 7,40 Q9.6,33.5 10,27 Q10,19 14.5,14.8 Q17.5,12 21,12.6 Q23.4,13.2 22.8,15.4 L20.4,16.8 L22.2,18.2 Q21,20.2 18.8,20 Q21.8,21.5 25.8,21.2 L28,22.8 L26.4,25 Q21.6,25.6 18.6,24.2 Q17.2,29 17.6,33 Q20.4,34.8 22.6,38.6 L25.4,39.4 L25,42.6 L21.4,42.4 Q17.6,41 16,38 Q14.4,42 13.2,45.4 Q14.6,48.4 13.2,50.4 L15.4,51.4 L14.8,53.6 L9.6,53.4 Z" fill="#e4561f"/>
<path d="M18.6,24.2 Q21.6,25.6 26.4,25 L28,22.8 L25.8,21.2 Q23,22.6 19.4,22.4 Z M13.2,50.4 L15.4,51.4 L14.8,53.6 L9.6,53.4 L8.6,52 Z M21.4,42.4 L25,42.6 L25.4,39.4 L22.6,38.6 Z" fill="#f8d24a"/>
<path d="M19.6,15.4 L22.8,15 L22.4,17.6 L20.2,17.2 Z" fill="#fff"/>
<g stroke="#2a1208" stroke-width="0.8" fill="none">
<path d="M11,22 L14.5,20.6 M10.4,25.6 L15.6,24.2 M10.2,29.4 L16.6,27.6 M9.6,33.2 L16.8,31.4 M8.6,37 L16.2,35.4 M7.4,41 L15,39.4 M6.8,45 L13.6,43.6 M7.4,48.6 L13,47.4 M13.4,17.6 L16.4,19.4 M15.6,15 L18.2,17 M18,13.4 L19.6,15.4 M3,24.4 L5,24 M3.6,28 L5.8,27.6 M4,32 L6.2,32 M2.8,36 L5.6,35.4"/>
</g></g></g>
<path d="M23.1,25.3 H51.8 V33 H23.1 Z" fill="#e8222b"/>
<rect x="25.55" y="26.3" width="0.9" height="6.2" fill="#f3cf3a"/>
<rect x="31.25" y="26.3" width="0.9" height="6.2" fill="#f3cf3a"/>
<rect x="36.949999999999996" y="26.3" width="0.9" height="6.2" fill="#f3cf3a"/>
<rect x="42.65" y="26.3" width="0.9" height="6.2" fill="#f3cf3a"/>
<rect x="48.349999999999994" y="26.3" width="0.9" height="6.2" fill="#f3cf3a"/>
<rect x="23.3" y="32.9" width="4.6" height="11" fill="#f4f4f0"/><rect x="24.6" y="34.5" width="1.6" height="5" fill="#3aa6a0"/>
<rect x="27.9" y="32.9" width="5.2" height="11" fill="#e8222b"/><rect x="33.1" y="32.9" width="3.6" height="11" fill="#1d1a18"/><rect x="36.7" y="32.9" width="4.9" height="11" fill="#ffffff"/><rect x="41.6" y="32.9" width="5.4" height="11" fill="#f7dc20"/>
<rect x="47" y="32.9" width="4.7" height="11" fill="#f4f4f0"/><path d="M47.4,42.6 L49.4,34.6 L51.4,42.6 Z" fill="#2f9e46"/>
<path d="M23.6,43.8 H51.3 Q51,50 45.6,52.8 Q40.2,54.4 37.4,56 Q34.6,54.4 29.2,52.8 Q24,50 23.6,43.8 Z" fill="#f6f6f4"/>
<path d="M23.6,43.8 H28.6 V52.4 Q24,49.6 23.6,43.8 Z" fill="#bfe3f2"/><path d="M46.3,43.8 H51.3 Q51,49.6 46.3,52.4 Z" fill="#9ad0a8"/>
<circle cx="30.6" cy="48" r="1.6" fill="#4a8fd0"/><circle cx="37.4" cy="49.4" r="2.3" fill="#d8282f"/><circle cx="37.4" cy="49.4" r="0.8" fill="#3a1a1a"/><path d="M41.6,46.4 L45.4,48.4 L42.4,49 Z" fill="#c9a53a"/>
<rect x="23.1" y="32.6" width="28.7" height="0.6" fill="#c9a52a"/><rect x="23.3" y="43.5" width="28.3" height="0.6" fill="#c9a52a"/>
<path d="M0.8,50.4 Q4.4,54 9.4,53.6 Q17.4,51.6 23.4,52.2 Q26.6,53.4 25.6,56.2 Q24.6,58.4 21.4,58 Q13,57 8,58.2 Q3.6,56 0.8,50.4 Z" fill="#f6c51d"/>
<path d="M74.2,50.4 Q70.6,54 65.6,53.6 Q57.6,51.6 51.6,52.2 Q48.4,53.4 49.4,56.2 Q50.4,58.4 53.6,58 Q62,57 67,58.2 Q71.4,56 74.2,50.4 Z" fill="#f6c51d"/>
<path d="M20.6,57.4 Q37.4,61.4 54.4,57.4 L54.8,63.4 Q37.4,67.2 20.2,63.4 Z" fill="#f6c51d"/>
<path d="M20.6,57.4 L23.4,56 L23,58 Z M54.4,57.4 L51.6,56 L52,58 Z" fill="#c9971a"/>
<path d="M23,61.6 Q37.4,64.6 52,61.6" fill="none" stroke="#5a3a10" stroke-width="1.3" stroke-dasharray="1.6 0.5"/>
<path d="M8.6,55.8 Q14,54.4 19.6,54.6 M55.4,54.6 Q61,54.4 66.4,55.8" fill="none" stroke="#6a4a14" stroke-width="1" stroke-dasharray="1.3 0.5"/>
</g>
<!-- census --><g>
<path d="M355.4,60.4 L371.3,43.6 L379.6,52.4 L385.8,48.6 L399.6,62 L397,62 L392,58 V59.6 H361.6 V58 Z" fill="#3b3273"/>
<circle cx="363.1" cy="41.9" r="5.1" fill="#3b3273"/><circle cx="390.9" cy="46.9" r="4.6" fill="#3b3273"/>
<circle cx="363.1" cy="41.9" r="2.6" fill="none" stroke="#9a94c0" stroke-width="0.6"/><circle cx="390.9" cy="46.9" r="2.3" fill="none" stroke="#9a94c0" stroke-width="0.6"/>
<rect x="361.9" y="59.4" width="30" height="12" fill="#3b3273"/>
<path d="M355.8,60 L359.6,56.6 V71.4 H356.6 V61.8 L355.8,62.4 Z" fill="#3b3273"/>
<circle cx="360.4" cy="53" r="1.7" fill="#fff" stroke="#3b3273" stroke-width="0.6"/>
<text x="376.9" y="67.4" font-size="7.6" font-weight="bold" fill="#fff" text-anchor="middle" textLength="28" lengthAdjust="spacingAndGlyphs">CENSUS</text>
<rect x="363" y="60.4" width="27.8" height="1.1" fill="#fff" opacity="0.75"/>
<text x="376.9" y="70.9" font-size="3.2" font-weight="bold" fill="#fff" text-anchor="middle" textLength="27" lengthAdjust="spacingAndGlyphs">MALAYSIA</text>
<rect x="355" y="73" width="38.6" height="1.5" fill="#3b3273" opacity="0.8"/>
<circle cx="347.2" cy="54.4" r="3" fill="#f07a22"/>
<path d="M341.6,62.2 L358.2,48.8 L359.4,50.4 L354.2,55.6 V71.4 H347.4 V61 L342.8,64.2 Z" fill="#f07a22"/>
<circle cx="403.2" cy="58.2" r="3" fill="#f07a22"/>
<path d="M394.6,54.2 L395.8,52.8 L402,59.6 L405.6,62 L409.4,65 L408.4,66.6 L405.4,64.8 V68 H399.6 V61.8 Z" fill="#f07a22"/>
<text x="402.6" y="71.8" font-size="5.4" font-weight="bold" fill="#f07a22" text-anchor="middle" textLength="13.6" lengthAdjust="spacingAndGlyphs">2020</text>
</g>
<!-- hsn --><g>
<path d="M437.8,38.2 A13.3,13.3 0 1 0 437.4,61.0" fill="none" stroke="#1f2a86" stroke-width="1.6" />
<path d="M417.4,47.6 A13.5,13.5 0 0 0 420.2,57.8" fill="none" stroke="#f2e01e" stroke-width="1.5" />
<path d="M439.3,39.3 A13.3,13.3 0 0 1 444.0,51.4" fill="none" stroke="#d8232a" stroke-width="1.5" stroke-dasharray="2.2 1.5"/>
<path d="M428.4,52.4 Q429.6,59.6 437.8,60.6 L434.6,62.6 Q427.6,60.4 426.9,53 Z" fill="#1f2a86"/>
<path d="M426.9,53 L428.4,52.4 L428.5,54 L427.2,54.4 Z" fill="#c9b02a"/>
<circle cx="433.3" cy="50" r="1.6" fill="none" stroke="#1f2a86" stroke-width="1.15"/><circle cx="439.2" cy="54.4" r="1.6" fill="none" stroke="#1f2a86" stroke-width="1.15"/><line x1="439.6" y1="48.3" x2="432.6" y2="56.3" stroke="#1f2a86" stroke-width="1.15"/>
<text x="452" y="65" font-size="4.9" fill="#4a55a5" text-anchor="end" textLength="10.6" lengthAdjust="spacingAndGlyphs">HARI</text>
<text x="452" y="69.6" font-size="5" font-weight="bold" fill="#1f2a86" text-anchor="end" textLength="26.6" lengthAdjust="spacingAndGlyphs">STATISTIK</text>
<text x="452" y="74.4" font-size="4.9" fill="#5560ad" text-anchor="end" textLength="21.4" lengthAdjust="spacingAndGlyphs">NEGARA</text>
</g>
<!-- sdg --><g>
<path d="M477.7,36.6 A18.8,18.8 0 0 1 483.5,36.6 L482.3,44.3 A11,11 0 0 0 478.9,44.3 Z" fill="#E5243B"/>
<path d="M484.6,36.8 A18.8,18.8 0 0 1 490.0,38.9 L486.1,45.7 A11,11 0 0 0 482.9,44.4 Z" fill="#DDA63A"/>
<path d="M490.9,39.5 A18.8,18.8 0 0 1 495.3,43.5 L489.2,48.3 A11,11 0 0 0 486.6,46.0 Z" fill="#4C9F38"/>
<path d="M495.9,44.3 A18.8,18.8 0 0 1 498.5,49.6 L491.1,51.9 A11,11 0 0 0 489.6,48.8 Z" fill="#C5192D"/>
<path d="M498.8,50.6 A18.8,18.8 0 0 1 499.4,56.4 L491.6,55.9 A11,11 0 0 0 491.3,52.5 Z" fill="#FF3A21"/>
<path d="M499.3,57.5 A18.8,18.8 0 0 1 497.7,63.1 L490.6,59.8 A11,11 0 0 0 491.5,56.5 Z" fill="#26BDE2"/>
<path d="M497.2,64.0 A18.8,18.8 0 0 1 493.6,68.7 L488.2,63.1 A11,11 0 0 0 490.3,60.4 Z" fill="#FCC30B"/>
<path d="M492.9,69.4 A18.8,18.8 0 0 1 487.9,72.5 L484.9,65.3 A11,11 0 0 0 487.8,63.5 Z" fill="#A21942"/>
<path d="M486.9,72.9 A18.8,18.8 0 0 1 481.1,74.0 L480.9,66.2 A11,11 0 0 0 484.3,65.6 Z" fill="#FD6925"/>
<path d="M480.1,74.0 A18.8,18.8 0 0 1 474.3,72.9 L476.9,65.6 A11,11 0 0 0 480.3,66.2 Z" fill="#DD1367"/>
<path d="M473.3,72.5 A18.8,18.8 0 0 1 468.3,69.4 L473.4,63.5 A11,11 0 0 0 476.3,65.3 Z" fill="#FD9D24"/>
<path d="M467.6,68.7 A18.8,18.8 0 0 1 464.0,64.0 L470.9,60.4 A11,11 0 0 0 473.0,63.1 Z" fill="#BF8B2E"/>
<path d="M463.5,63.1 A18.8,18.8 0 0 1 461.9,57.5 L469.7,56.5 A11,11 0 0 0 470.6,59.8 Z" fill="#3F7E44"/>
<path d="M461.8,56.4 A18.8,18.8 0 0 1 462.4,50.6 L469.9,52.5 A11,11 0 0 0 469.6,55.9 Z" fill="#0A97D9"/>
<path d="M462.7,49.6 A18.8,18.8 0 0 1 465.3,44.3 L471.6,48.8 A11,11 0 0 0 470.1,51.9 Z" fill="#56C02B"/>
<path d="M465.9,43.5 A18.8,18.8 0 0 1 470.3,39.5 L474.6,46.0 A11,11 0 0 0 472.0,48.3 Z" fill="#00689D"/>
<path d="M471.2,38.9 A18.8,18.8 0 0 1 476.6,36.8 L478.3,44.4 A11,11 0 0 0 475.1,45.7 Z" fill="#19486A"/>
<text x="480.6" y="51.6" font-size="2.6" font-weight="bold" fill="#28a6d8" text-anchor="middle" textLength="14.4" lengthAdjust="spacingAndGlyphs">SUSTAINABLE</text>
<text x="480.6" y="54" font-size="2.4" font-weight="bold" fill="#28a6d8" text-anchor="middle" textLength="14.4" lengthAdjust="spacingAndGlyphs">DEVELOPMENT</text>
<text x="480.6" y="58.2" font-size="5" font-weight="bold" fill="#2f9ad6" text-anchor="middle" textLength="14.6" lengthAdjust="spacingAndGlyphs">GOALS</text>
<text x="480.6" y="61.6" font-size="3.3" font-weight="bold" fill="#23203a" text-anchor="middle" textLength="14.6" lengthAdjust="spacingAndGlyphs">MALAYSIA</text>
</g>
<!-- qr -->
<rect x="507" y="31" width="49" height="48" fill="#fff"/>
<g fill="#3f3f3f"><path d="M520.83,32.00h3.21v1.60h-3.21zM524.03,32.00h1.60v1.60h-1.60zM525.64,32.00h3.21v1.60h-3.21zM528.84,32.00h8.02v1.60h-8.02zM536.86,32.00h3.21v1.60h-3.21zM522.43,33.60h1.60v1.60h-1.60zM524.03,33.60h1.60v1.60h-1.60zM525.64,33.60h6.41v1.60h-6.41zM532.05,33.60h1.60v1.60h-1.60zM535.26,33.60h1.60v1.60h-1.60zM536.86,33.60h4.81v1.60h-4.81zM522.43,35.21h3.21v1.60h-3.21zM525.64,35.21h3.21v1.60h-3.21zM530.45,35.21h1.60v1.60h-1.60zM536.86,35.21h1.60v1.60h-1.60zM538.47,35.21h3.21v1.60h-3.21zM522.43,36.81h1.60v1.60h-1.60zM524.03,36.81h1.60v1.60h-1.60zM530.45,36.81h1.60v1.60h-1.60zM535.26,36.81h1.60v1.60h-1.60zM520.83,38.41h1.60v1.60h-1.60zM527.24,38.41h3.21v1.60h-3.21zM530.45,38.41h1.60v1.60h-1.60zM532.05,38.41h4.81v1.60h-4.81zM536.86,38.41h4.81v1.60h-4.81zM522.43,40.02h3.21v1.60h-3.21zM530.45,40.02h4.81v1.60h-4.81zM536.86,40.02h4.81v1.60h-4.81zM520.83,41.62h1.60v1.60h-1.60zM524.03,41.62h6.41v1.60h-6.41zM538.47,41.62h1.60v1.60h-1.60zM524.03,43.22h4.81v1.60h-4.81zM528.84,43.22h12.83v1.60h-12.83zM508.00,44.83h4.81v1.60h-4.81zM514.41,44.83h8.02v1.60h-8.02zM527.24,44.83h6.41v1.60h-6.41zM533.66,44.83h3.21v1.60h-3.21zM538.47,44.83h1.60v1.60h-1.60zM540.07,44.83h1.60v1.60h-1.60zM546.48,44.83h4.81v1.60h-4.81zM508.00,46.43h3.21v1.60h-3.21zM519.22,46.43h1.60v1.60h-1.60zM520.83,46.43h8.02v1.60h-8.02zM530.45,46.43h1.60v1.60h-1.60zM535.26,46.43h8.02v1.60h-8.02zM551.29,46.43h1.60v1.60h-1.60zM512.81,48.03h1.60v1.60h-1.60zM514.41,48.03h1.60v1.60h-1.60zM517.62,48.03h3.21v1.60h-3.21zM522.43,48.03h1.60v1.60h-1.60zM540.07,48.03h3.21v1.60h-3.21zM544.88,48.03h1.60v1.60h-1.60zM549.69,48.03h1.60v1.60h-1.60zM551.29,48.03h3.21v1.60h-3.21zM514.41,49.64h1.60v1.60h-1.60zM517.62,49.64h6.41v1.60h-6.41zM541.67,49.64h4.81v1.60h-4.81zM546.48,49.64h1.60v1.60h-1.60zM551.29,49.64h1.60v1.60h-1.60zM511.21,51.24h6.41v1.60h-6.41zM517.62,51.24h1.60v1.60h-1.60zM522.43,51.24h1.60v1.60h-1.60zM544.88,51.24h1.60v1.60h-1.60zM546.48,51.24h3.21v1.60h-3.21zM509.60,52.84h1.60v1.60h-1.60zM516.02,52.84h1.60v1.60h-1.60zM541.67,52.84h1.60v1.60h-1.60zM546.48,52.84h8.02v1.60h-8.02zM508.00,54.45h1.60v1.60h-1.60zM512.81,54.45h1.60v1.60h-1.60zM516.02,54.45h1.60v1.60h-1.60zM519.22,54.45h1.60v1.60h-1.60zM520.83,54.45h1.60v1.60h-1.60zM541.67,54.45h3.21v1.60h-3.21zM544.88,54.45h4.81v1.60h-4.81zM549.69,54.45h1.60v1.60h-1.60zM551.29,54.45h3.21v1.60h-3.21zM508.00,56.05h1.60v1.60h-1.60zM511.21,56.05h1.60v1.60h-1.60zM516.02,56.05h4.81v1.60h-4.81zM520.83,56.05h3.21v1.60h-3.21zM540.07,56.05h1.60v1.60h-1.60zM543.28,56.05h3.21v1.60h-3.21zM549.69,56.05h3.21v1.60h-3.21zM552.90,56.05h1.60v1.60h-1.60zM508.00,57.66h1.60v1.60h-1.60zM512.81,57.66h1.60v1.60h-1.60zM514.41,57.66h1.60v1.60h-1.60zM516.02,57.66h3.21v1.60h-3.21zM520.83,57.66h3.21v1.60h-3.21zM541.67,57.66h11.22v1.60h-11.22zM552.90,57.66h1.60v1.60h-1.60zM509.60,59.26h8.02v1.60h-8.02zM519.22,59.26h1.60v1.60h-1.60zM522.43,59.26h1.60v1.60h-1.60zM541.67,59.26h1.60v1.60h-1.60zM544.88,59.26h1.60v1.60h-1.60zM549.69,59.26h1.60v1.60h-1.60zM508.00,60.86h8.02v1.60h-8.02zM516.02,60.86h4.81v1.60h-4.81zM540.07,60.86h4.81v1.60h-4.81zM544.88,60.86h4.81v1.60h-4.81zM552.90,60.86h1.60v1.60h-1.60zM509.60,62.47h6.41v1.60h-6.41zM517.62,62.47h1.60v1.60h-1.60zM519.22,62.47h12.83v1.60h-12.83zM540.07,62.47h3.21v1.60h-3.21zM543.28,62.47h1.60v1.60h-1.60zM546.48,62.47h1.60v1.60h-1.60zM508.00,64.07h1.60v1.60h-1.60zM522.43,64.07h8.02v1.60h-8.02zM538.47,64.07h1.60v1.60h-1.60zM546.48,64.07h1.60v1.60h-1.60zM548.09,64.07h4.81v1.60h-4.81zM552.90,64.07h1.60v1.60h-1.60zM525.64,65.67h1.60v1.60h-1.60zM533.66,65.67h4.81v1.60h-4.81zM538.47,65.67h1.60v1.60h-1.60zM540.07,65.67h4.81v1.60h-4.81zM548.09,65.67h1.60v1.60h-1.60zM552.90,65.67h1.60v1.60h-1.60zM522.43,67.28h1.60v1.60h-1.60zM525.64,67.28h1.60v1.60h-1.60zM530.45,67.28h4.81v1.60h-4.81zM535.26,67.28h1.60v1.60h-1.60zM536.86,67.28h1.60v1.60h-1.60zM540.07,67.28h1.60v1.60h-1.60zM546.48,67.28h1.60v1.60h-1.60zM549.69,67.28h3.21v1.60h-3.21zM552.90,67.28h1.60v1.60h-1.60zM520.83,68.88h6.41v1.60h-6.41zM527.24,68.88h1.60v1.60h-1.60zM530.45,68.88h1.60v1.60h-1.60zM535.26,68.88h4.81v1.60h-4.81zM541.67,68.88h8.02v1.60h-8.02zM549.69,68.88h1.60v1.60h-1.60zM551.29,68.88h3.21v1.60h-3.21zM522.43,70.48h3.21v1.60h-3.21zM536.86,70.48h1.60v1.60h-1.60zM538.47,70.48h1.60v1.60h-1.60zM541.67,70.48h3.21v1.60h-3.21zM544.88,70.48h1.60v1.60h-1.60zM546.48,70.48h3.21v1.60h-3.21zM551.29,70.48h1.60v1.60h-1.60zM552.90,70.48h1.60v1.60h-1.60zM522.43,72.09h6.41v1.60h-6.41zM530.45,72.09h1.60v1.60h-1.60zM533.66,72.09h12.83v1.60h-12.83zM549.69,72.09h3.21v1.60h-3.21zM552.90,72.09h1.60v1.60h-1.60zM520.83,73.69h4.81v1.60h-4.81zM525.64,73.69h1.60v1.60h-1.60zM530.45,73.69h8.02v1.60h-8.02zM541.67,73.69h3.21v1.60h-3.21zM549.69,73.69h3.21v1.60h-3.21zM524.03,75.29h4.81v1.60h-4.81zM536.86,75.29h1.60v1.60h-1.60zM538.47,75.29h1.60v1.60h-1.60zM540.07,75.29h1.60v1.60h-1.60zM543.28,75.29h4.81v1.60h-4.81zM549.69,75.29h3.21v1.60h-3.21zM520.83,76.90h3.21v1.60h-3.21zM524.03,76.90h3.21v1.60h-3.21zM533.66,76.90h3.21v1.60h-3.21zM538.47,76.90h3.21v1.60h-3.21zM543.28,76.90h3.21v1.60h-3.21zM548.09,76.90h6.41v1.60h-6.41z"/><rect x="508.00" y="32.00" width="11.22" height="11.22"/><rect x="509.60" y="33.60" width="8.02" height="8.02" fill="#fff"/><rect x="511.21" y="35.21" width="4.81" height="4.81"/><rect x="543.28" y="32.00" width="11.22" height="11.22"/><rect x="544.88" y="33.60" width="8.02" height="8.02" fill="#fff"/><rect x="546.48" y="35.21" width="4.81" height="4.81"/><rect x="508.00" y="67.28" width="11.22" height="11.22"/><rect x="509.60" y="68.88" width="8.02" height="8.02" fill="#fff"/><rect x="511.21" y="70.48" width="4.81" height="4.81"/></g>
<rect x="563" y="31" width="49" height="48" fill="#fff"/>
<g fill="#555"><path d="M575.47,32.00h1.41v1.41h-1.41zM582.52,32.00h1.41v1.41h-1.41zM586.75,32.00h4.23v1.41h-4.23zM592.38,32.00h1.41v1.41h-1.41zM598.02,32.00h1.41v1.41h-1.41zM575.47,33.41h1.41v1.41h-1.41zM576.88,33.41h5.64v1.41h-5.64zM582.52,33.41h1.41v1.41h-1.41zM589.56,33.41h2.82v1.41h-2.82zM596.61,33.41h2.82v1.41h-2.82zM575.47,34.82h2.82v1.41h-2.82zM578.29,34.82h1.41v1.41h-1.41zM579.70,34.82h1.41v1.41h-1.41zM582.52,34.82h2.82v1.41h-2.82zM588.15,34.82h2.82v1.41h-2.82zM592.38,34.82h4.23v1.41h-4.23zM598.02,34.82h1.41v1.41h-1.41zM575.47,36.23h4.23v1.41h-4.23zM579.70,36.23h1.41v1.41h-1.41zM581.11,36.23h2.82v1.41h-2.82zM583.93,36.23h1.41v1.41h-1.41zM585.34,36.23h5.64v1.41h-5.64zM592.38,36.23h1.41v1.41h-1.41zM593.79,36.23h2.82v1.41h-2.82zM598.02,36.23h1.41v1.41h-1.41zM576.88,37.64h2.82v1.41h-2.82zM579.70,37.64h5.64v1.41h-5.64zM585.34,37.64h1.41v1.41h-1.41zM586.75,37.64h1.41v1.41h-1.41zM593.79,37.64h2.82v1.41h-2.82zM598.02,37.64h1.41v1.41h-1.41zM575.47,39.05h1.41v1.41h-1.41zM578.29,39.05h1.41v1.41h-1.41zM582.52,39.05h4.23v1.41h-4.23zM586.75,39.05h1.41v1.41h-1.41zM588.15,39.05h1.41v1.41h-1.41zM590.97,39.05h2.82v1.41h-2.82zM593.79,39.05h2.82v1.41h-2.82zM575.47,40.45h1.41v1.41h-1.41zM576.88,40.45h9.86v1.41h-9.86zM586.75,40.45h2.82v1.41h-2.82zM595.20,40.45h4.23v1.41h-4.23zM579.70,41.86h1.41v1.41h-1.41zM583.93,41.86h1.41v1.41h-1.41zM585.34,41.86h1.41v1.41h-1.41zM595.20,41.86h1.41v1.41h-1.41zM564.20,43.27h1.41v1.41h-1.41zM569.84,43.27h1.41v1.41h-1.41zM572.65,43.27h1.41v1.41h-1.41zM578.29,43.27h1.41v1.41h-1.41zM581.11,43.27h1.41v1.41h-1.41zM582.52,43.27h1.41v1.41h-1.41zM583.93,43.27h1.41v1.41h-1.41zM586.75,43.27h1.41v1.41h-1.41zM592.38,43.27h4.23v1.41h-4.23zM596.61,43.27h2.82v1.41h-2.82zM600.84,43.27h1.41v1.41h-1.41zM602.25,43.27h1.41v1.41h-1.41zM603.65,43.27h2.82v1.41h-2.82zM609.29,43.27h1.41v1.41h-1.41zM565.61,44.68h2.82v1.41h-2.82zM574.06,44.68h2.82v1.41h-2.82zM576.88,44.68h4.23v1.41h-4.23zM582.52,44.68h1.41v1.41h-1.41zM585.34,44.68h4.23v1.41h-4.23zM589.56,44.68h1.41v1.41h-1.41zM592.38,44.68h1.41v1.41h-1.41zM593.79,44.68h2.82v1.41h-2.82zM596.61,44.68h1.41v1.41h-1.41zM598.02,44.68h4.23v1.41h-4.23zM602.25,44.68h1.41v1.41h-1.41zM609.29,44.68h1.41v1.41h-1.41zM565.61,46.09h2.82v1.41h-2.82zM569.84,46.09h4.23v1.41h-4.23zM578.29,46.09h1.41v1.41h-1.41zM581.11,46.09h1.41v1.41h-1.41zM583.93,46.09h1.41v1.41h-1.41zM588.15,46.09h1.41v1.41h-1.41zM596.61,46.09h1.41v1.41h-1.41zM602.25,46.09h1.41v1.41h-1.41zM609.29,46.09h1.41v1.41h-1.41zM567.02,47.50h4.23v1.41h-4.23zM574.06,47.50h1.41v1.41h-1.41zM575.47,47.50h1.41v1.41h-1.41zM576.88,47.50h2.82v1.41h-2.82zM579.70,47.50h2.82v1.41h-2.82zM590.97,47.50h2.82v1.41h-2.82zM593.79,47.50h1.41v1.41h-1.41zM600.84,47.50h2.82v1.41h-2.82zM605.06,47.50h1.41v1.41h-1.41zM564.20,48.91h1.41v1.41h-1.41zM568.43,48.91h1.41v1.41h-1.41zM571.25,48.91h1.41v1.41h-1.41zM576.88,48.91h1.41v1.41h-1.41zM578.29,48.91h1.41v1.41h-1.41zM593.79,48.91h1.41v1.41h-1.41zM595.20,48.91h2.82v1.41h-2.82zM600.84,48.91h2.82v1.41h-2.82zM605.06,48.91h1.41v1.41h-1.41zM606.47,48.91h4.23v1.41h-4.23zM565.61,50.32h2.82v1.41h-2.82zM568.43,50.32h1.41v1.41h-1.41zM569.84,50.32h1.41v1.41h-1.41zM571.25,50.32h2.82v1.41h-2.82zM574.06,50.32h4.23v1.41h-4.23zM578.29,50.32h2.82v1.41h-2.82zM602.25,50.32h1.41v1.41h-1.41zM606.47,50.32h2.82v1.41h-2.82zM609.29,50.32h1.41v1.41h-1.41zM567.02,51.73h2.82v1.41h-2.82zM569.84,51.73h2.82v1.41h-2.82zM572.65,51.73h1.41v1.41h-1.41zM574.06,51.73h2.82v1.41h-2.82zM576.88,51.73h2.82v1.41h-2.82zM595.20,51.73h1.41v1.41h-1.41zM600.84,51.73h5.64v1.41h-5.64zM609.29,51.73h1.41v1.41h-1.41zM564.20,53.14h2.82v1.41h-2.82zM569.84,53.14h2.82v1.41h-2.82zM575.47,53.14h1.41v1.41h-1.41zM578.29,53.14h1.41v1.41h-1.41zM579.70,53.14h1.41v1.41h-1.41zM596.61,53.14h1.41v1.41h-1.41zM599.43,53.14h4.23v1.41h-4.23zM603.65,53.14h1.41v1.41h-1.41zM564.20,54.55h1.41v1.41h-1.41zM569.84,54.55h1.41v1.41h-1.41zM575.47,54.55h1.41v1.41h-1.41zM595.20,54.55h1.41v1.41h-1.41zM596.61,54.55h2.82v1.41h-2.82zM599.43,54.55h2.82v1.41h-2.82zM603.65,54.55h1.41v1.41h-1.41zM606.47,54.55h1.41v1.41h-1.41zM564.20,55.95h1.41v1.41h-1.41zM571.25,55.95h1.41v1.41h-1.41zM574.06,55.95h7.05v1.41h-7.05zM593.79,55.95h2.82v1.41h-2.82zM606.47,55.95h1.41v1.41h-1.41zM609.29,55.95h1.41v1.41h-1.41zM565.61,57.36h1.41v1.41h-1.41zM567.02,57.36h1.41v1.41h-1.41zM569.84,57.36h1.41v1.41h-1.41zM571.25,57.36h1.41v1.41h-1.41zM574.06,57.36h2.82v1.41h-2.82zM578.29,57.36h1.41v1.41h-1.41zM579.70,57.36h1.41v1.41h-1.41zM593.79,57.36h5.64v1.41h-5.64zM599.43,57.36h1.41v1.41h-1.41zM602.25,57.36h1.41v1.41h-1.41zM605.06,57.36h1.41v1.41h-1.41zM606.47,57.36h1.41v1.41h-1.41zM609.29,57.36h1.41v1.41h-1.41zM574.06,58.77h1.41v1.41h-1.41zM575.47,58.77h4.23v1.41h-4.23zM579.70,58.77h1.41v1.41h-1.41zM593.79,58.77h1.41v1.41h-1.41zM595.20,58.77h2.82v1.41h-2.82zM598.02,58.77h1.41v1.41h-1.41zM605.06,58.77h2.82v1.41h-2.82zM564.20,60.18h2.82v1.41h-2.82zM572.65,60.18h2.82v1.41h-2.82zM578.29,60.18h2.82v1.41h-2.82zM593.79,60.18h2.82v1.41h-2.82zM596.61,60.18h1.41v1.41h-1.41zM598.02,60.18h2.82v1.41h-2.82zM603.65,60.18h1.41v1.41h-1.41zM605.06,60.18h2.82v1.41h-2.82zM609.29,60.18h1.41v1.41h-1.41zM564.20,61.59h1.41v1.41h-1.41zM568.43,61.59h4.23v1.41h-4.23zM572.65,61.59h1.41v1.41h-1.41zM575.47,61.59h1.41v1.41h-1.41zM579.70,61.59h4.23v1.41h-4.23zM583.93,61.59h2.82v1.41h-2.82zM589.56,61.59h1.41v1.41h-1.41zM590.97,61.59h2.82v1.41h-2.82zM593.79,61.59h2.82v1.41h-2.82zM598.02,61.59h4.23v1.41h-4.23zM602.25,61.59h2.82v1.41h-2.82zM564.20,63.00h1.41v1.41h-1.41zM565.61,63.00h4.23v1.41h-4.23zM571.25,63.00h9.86v1.41h-9.86zM586.75,63.00h1.41v1.41h-1.41zM589.56,63.00h2.82v1.41h-2.82zM599.43,63.00h1.41v1.41h-1.41zM602.25,63.00h2.82v1.41h-2.82zM606.47,63.00h1.41v1.41h-1.41zM607.88,63.00h1.41v1.41h-1.41zM564.20,64.41h2.82v1.41h-2.82zM569.84,64.41h2.82v1.41h-2.82zM581.11,64.41h1.41v1.41h-1.41zM596.61,64.41h4.23v1.41h-4.23zM602.25,64.41h7.05v1.41h-7.05zM609.29,64.41h1.41v1.41h-1.41zM564.20,65.82h2.82v1.41h-2.82zM568.43,65.82h2.82v1.41h-2.82zM574.06,65.82h7.05v1.41h-7.05zM582.52,65.82h5.64v1.41h-5.64zM588.15,65.82h1.41v1.41h-1.41zM592.38,65.82h1.41v1.41h-1.41zM595.20,65.82h1.41v1.41h-1.41zM599.43,65.82h2.82v1.41h-2.82zM603.65,65.82h1.41v1.41h-1.41zM606.47,65.82h1.41v1.41h-1.41zM609.29,65.82h1.41v1.41h-1.41zM575.47,67.23h1.41v1.41h-1.41zM576.88,67.23h1.41v1.41h-1.41zM581.11,67.23h5.64v1.41h-5.64zM590.97,67.23h1.41v1.41h-1.41zM592.38,67.23h1.41v1.41h-1.41zM593.79,67.23h1.41v1.41h-1.41zM598.02,67.23h2.82v1.41h-2.82zM600.84,67.23h1.41v1.41h-1.41zM607.88,67.23h1.41v1.41h-1.41zM609.29,67.23h1.41v1.41h-1.41zM576.88,68.64h1.41v1.41h-1.41zM578.29,68.64h1.41v1.41h-1.41zM581.11,68.64h1.41v1.41h-1.41zM582.52,68.64h5.64v1.41h-5.64zM589.56,68.64h1.41v1.41h-1.41zM590.97,68.64h2.82v1.41h-2.82zM598.02,68.64h2.82v1.41h-2.82zM600.84,68.64h1.41v1.41h-1.41zM602.25,68.64h2.82v1.41h-2.82zM606.47,68.64h1.41v1.41h-1.41zM607.88,68.64h2.82v1.41h-2.82zM576.88,70.05h4.23v1.41h-4.23zM581.11,70.05h2.82v1.41h-2.82zM583.93,70.05h1.41v1.41h-1.41zM588.15,70.05h1.41v1.41h-1.41zM589.56,70.05h4.23v1.41h-4.23zM595.20,70.05h2.82v1.41h-2.82zM599.43,70.05h8.45v1.41h-8.45zM607.88,70.05h1.41v1.41h-1.41zM578.29,71.45h7.05v1.41h-7.05zM590.97,71.45h4.23v1.41h-4.23zM595.20,71.45h2.82v1.41h-2.82zM602.25,71.45h1.41v1.41h-1.41zM606.47,71.45h1.41v1.41h-1.41zM607.88,71.45h1.41v1.41h-1.41zM579.70,72.86h1.41v1.41h-1.41zM582.52,72.86h4.23v1.41h-4.23zM588.15,72.86h1.41v1.41h-1.41zM589.56,72.86h1.41v1.41h-1.41zM590.97,72.86h1.41v1.41h-1.41zM592.38,72.86h1.41v1.41h-1.41zM598.02,72.86h1.41v1.41h-1.41zM603.65,72.86h1.41v1.41h-1.41zM605.06,72.86h1.41v1.41h-1.41zM606.47,72.86h1.41v1.41h-1.41zM609.29,72.86h1.41v1.41h-1.41zM576.88,74.27h4.23v1.41h-4.23zM583.93,74.27h1.41v1.41h-1.41zM586.75,74.27h1.41v1.41h-1.41zM589.56,74.27h2.82v1.41h-2.82zM592.38,74.27h2.82v1.41h-2.82zM595.20,74.27h1.41v1.41h-1.41zM596.61,74.27h1.41v1.41h-1.41zM598.02,74.27h1.41v1.41h-1.41zM599.43,74.27h1.41v1.41h-1.41zM600.84,74.27h1.41v1.41h-1.41zM605.06,74.27h1.41v1.41h-1.41zM581.11,75.68h2.82v1.41h-2.82zM588.15,75.68h1.41v1.41h-1.41zM589.56,75.68h2.82v1.41h-2.82zM598.02,75.68h1.41v1.41h-1.41zM599.43,75.68h4.23v1.41h-4.23zM603.65,75.68h2.82v1.41h-2.82zM607.88,75.68h2.82v1.41h-2.82zM575.47,77.09h4.23v1.41h-4.23zM583.93,77.09h1.41v1.41h-1.41zM585.34,77.09h1.41v1.41h-1.41zM589.56,77.09h1.41v1.41h-1.41zM590.97,77.09h1.41v1.41h-1.41zM593.79,77.09h7.05v1.41h-7.05zM602.25,77.09h2.82v1.41h-2.82zM605.06,77.09h2.82v1.41h-2.82zM607.88,77.09h1.41v1.41h-1.41z"/><rect x="564.20" y="32.00" width="9.86" height="9.86"/><rect x="565.61" y="33.41" width="7.05" height="7.05" fill="#fff"/><rect x="567.02" y="34.82" width="4.23" height="4.23"/><rect x="600.84" y="32.00" width="9.86" height="9.86"/><rect x="602.25" y="33.41" width="7.05" height="7.05" fill="#fff"/><rect x="603.65" y="34.82" width="4.23" height="4.23"/><rect x="564.20" y="68.64" width="9.86" height="9.86"/><rect x="565.61" y="70.05" width="7.05" height="7.05" fill="#fff"/><rect x="567.02" y="71.45" width="4.23" height="4.23"/></g>
<g transform="translate(524.6 46.4) scale(0.215)"><rect x="-2" y="0" width="79" height="68" fill="#fff"/>
<path d="M28.9,14 A8.7,9.6 0 0 0 46.3,14 A8.7,7 0 0 1 28.9,14 Z" fill="#f6c51d"/><circle cx="37.4" cy="12" r="4.6" fill="#f6c51d"/>
<path d="M7,52 Q5,40 10,27 Q10,17 18,12.6 L23,14 L20,20 L28,22.8 L26,25 L18,24.6 L17.6,33 L25.4,39.4 L25,42.6 L16,38 L13.2,50 L15,53.6 Z" fill="#e4561f"/>
<path d="M68,52 Q70,40 65,27 Q65,17 57,12.6 L52,14 L55,20 L47,22.8 L49,25 L57,24.6 L57.4,33 L49.6,39.4 L50,42.6 L59,38 L61.8,50 L60,53.6 Z" fill="#e4561f"/>
<path d="M23.1,25.3 H51.8 V33 H23.1 Z" fill="#e8222b"/><rect x="23.3" y="33" width="10" height="11" fill="#e8222b"/><rect x="33" y="33" width="4" height="11" fill="#222"/><rect x="37" y="33" width="5" height="11" fill="#fff"/><rect x="42" y="33" width="5" height="11" fill="#f7dc20"/><rect x="47" y="33" width="4.7" height="11" fill="#2f9e46"/>
<path d="M23.6,43.8 H51.3 Q51,50 45.6,52.8 L37.4,56 L29.2,52.8 Q24,50 23.6,43.8 Z" fill="#eee"/><circle cx="37.4" cy="49" r="2.6" fill="#d8282f"/>
<path d="M6,52 Q37,68 69,52 L66,60 Q37,72 9,60 Z" fill="#f6c51d"/>
</g>
<rect x="579.8" y="49" width="14.2" height="13.4" fill="#fff"/><rect x="580.8" y="50" width="12.2" height="11.4" fill="#3b5998"/>
<path d="M587.2,61.4 V56.6 H585.8 V54.8 H587.2 V53.6 Q587.2,51.6 589.2,51.6 H590.6 V53.4 H589.8 Q589.2,53.4 589.2,54 V54.8 H590.6 L590.4,56.6 H589.2 V61.4 Z" fill="#fff"/>
<!-- statsmalaysia --><g>
<text x="623.4" y="42.2" font-size="12.6" font-weight="bold" fill="#2f8da6" textLength="30.6" lengthAdjust="spacingAndGlyphs">Stats</text>
<text x="654.4" y="42.2" font-size="12.6" fill="#4a9fb6" textLength="52" lengthAdjust="spacingAndGlyphs">Malaysia</text>
<rect x="624" y="48.2" width="17.4" height="17.4" fill="#2f8da6"/>
<rect x="645.4" y="48.2" width="17.4" height="17.4" fill="#2f8da6"/>
<rect x="666.8" y="48.2" width="17.4" height="17.4" fill="#2f8da6"/>
<rect x="688.4" y="48.2" width="17.4" height="17.4" fill="#2f8da6"/>
<path d="M632.2,64.2 V58 H630.2 V55.6 H632.2 V54 Q632.2,50.8 635.4,50.8 H637.4 V53.2 H636.2 Q635.2,53.2 635.2,54.2 V55.6 H637.4 L637,58 H635.2 V64.2 Z" fill="#fff"/>
<rect x="648.6" y="51.4" width="11" height="11" rx="3" fill="none" stroke="#fff" stroke-width="1.2"/><circle cx="654.1" cy="56.9" r="2.6" fill="none" stroke="#fff" stroke-width="1.2"/><circle cx="657.3" cy="53.7" r="0.7" fill="#fff"/>
<path d="M681.6,53 Q680.6,53.5 679.6,53.6 Q680.6,53 681,51.8 Q680,52.4 679,52.6 Q678.2,51.6 676.8,51.6 Q674.4,51.8 674.4,54.2 L674.5,54.8 Q671.4,54.6 669.6,52.2 Q668.6,54.4 670.4,55.8 Q669.8,55.8 669.2,55.5 Q669.4,57.4 671.4,58 Q670.8,58.2 670.2,58.1 Q670.8,59.6 672.6,59.8 Q671,61 668.8,60.8 Q670.6,62 672.8,62 Q679.4,61.6 679.8,55 L679.8,54.6 Q680.8,54 681.6,53 Z" fill="#fff"/>
<rect x="690.6" y="52" width="13" height="9.8" rx="2.8" fill="#fff"/><path d="M695.6,54.4 L699.8,56.9 L695.6,59.4 Z" fill="#2f8da6"/>
<rect x="624" y="68.9" width="82" height="0.8" fill="#4a9fb6"/>
<text x="665" y="77" font-size="7.4" fill="#4a9fb6" text-anchor="middle" textLength="73.4" lengthAdjust="spacing">www.dosm.gov.my</text>
</g><!-- airplane -->
<defs>
<linearGradient id="pl1" gradientUnits="userSpaceOnUse" x1="52" y1="390" x2="62" y2="399"><stop offset="0" stop-color="#ffffff"/><stop offset="0.45" stop-color="#f1f2f4"/><stop offset="0.75" stop-color="#c3c8cd"/><stop offset="1" stop-color="#8e959c"/></linearGradient>
<linearGradient id="pl2" x1="0" y1="0" x2="1" y2="1"><stop offset="0" stop-color="#f4f5f6"/><stop offset="0.5" stop-color="#b9bec4"/><stop offset="1" stop-color="#6f767d"/></linearGradient>
</defs>
<g>
 <!-- far (right) wing stub & engine -->
 <path d="M57,400.5 L67.5,401.5 L68,407 L59,405.5 Z" fill="#8d9399"/>
 <path d="M64.6,403.2 Q66,399.6 70.6,400 Q75.8,401 75.4,406 Q74.8,412 70.4,412.6 Q66,412.4 65.2,408.4 Z" fill="#a4aab0"/>
 <path d="M71.2,400.4 Q75.8,401.6 75.4,406.4 Q74.8,411.8 71.2,412.4 Q73.2,406.4 71.2,400.4 Z" fill="#70767c"/>
 <path d="M74.6,403.4 L77.4,404.2 L77,405.8 L74.8,405.6 Z" fill="#7d8389"/>
 <!-- tailplane far side -->
 <path d="M26.9,395 L35.6,393.4 L41,396.3 L40.2,398.2 L27.2,397.2 Z" fill="#8a9096"/>
 <path d="M27.2,396.4 L40.4,397.4 L40.2,398.2 L27.2,397.2 Z" fill="#6e747a"/>
 <!-- fin -->
 <path d="M33.2,400 L36.2,390.8 L38.2,391.6 L40.4,402.4 L36,406 Z" fill="#f4f5f6"/>
 <path d="M37.4,391.4 L38.2,391.6 L40.4,402.4 L39,403.4 Z" fill="#c9cdd2"/>
 <circle cx="36.3" cy="399.8" r="1.1" fill="#3a6fb0"/>
 <!-- fuselage -->
 <path d="M37.6,408.4 L69.2,373 Q74,370 79.4,373 Q83.8,376.4 82.4,380.8 L54,409.8 Q48,416.4 42.6,418.8 Q38.6,420 36.6,417.4 Q35.2,413 37.6,408.4 Z" fill="url(#pl1)"/>
 <path d="M82.4,380.8 L54,409.8 Q48,416.4 42.6,418.8 Q39.6,419.6 37.6,418.2 Q44,416.6 51,408.6 L80.6,378.6 Z" fill="#7d848b" opacity="0.55"/>
 <path d="M71.3,379.6 Q56,393.6 39.5,414.4" fill="none" stroke="#3f74b5" stroke-width="0.9"/>
 <path d="M70,373.4 Q73.6,371.2 77.6,372.8 L76.6,375 Q73.6,373.8 71.2,375.2 Z" fill="#33383e"/>
 <!-- near wing -->
 <path d="M15.4,402.4 L46.4,399.2 L50,405 L36,407.2 L16.2,404.8 Z" fill="#b3b8bd"/>
 <path d="M16.2,404.8 L36,407.2 L50,405 L49.4,403.6 L36,405.4 L15.8,403.6 Z" fill="#7a8086"/>
 <path d="M26,404.6 L26.6,407.6 L27.8,407.6 L28,404.8 Z" fill="#858b91"/>
 <!-- near engine -->
 <path d="M44.2,401 Q46,396.8 50.6,397.4 Q54.6,398.6 54,404 Q53,411.2 48.6,411.8 Q44,411.2 43.8,406.2 Z" fill="url(#pl2)"/>
 <ellipse cx="51.5" cy="404.4" rx="2.2" ry="5.8" transform="rotate(12 51.5 404.4)" fill="#7d848b"/>
 <ellipse cx="51.9" cy="404.4" rx="1.3" ry="4.3" transform="rotate(12 51.9 404.4)" fill="#cfd3d7"/>
 <ellipse cx="52.1" cy="404.4" rx="0.6" ry="2" transform="rotate(12 52.1 404.4)" fill="#8a9097"/>
 <path d="M53.6,402 L57,401 L57.4,405.4 L53.8,406.4 Z" fill="#aeb3b8"/>
</g>
<!-- professional: building, scales, books, gavel -->
<g>
 <polygon points="656.7,372 680.5,372 688.3,379.8 648.8,379.8" fill="#4a3b48"/>
 <rect x="648.9" y="379.5" width="39.2" height="31" fill="#c5434f"/>
 <rect x="648.9" y="379.5" width="39.2" height="1.2" fill="#a83440"/>
 <rect x="648.9" y="403.8" width="39.2" height="1.3" fill="#a83440"/>
 <rect x="648.9" y="409.5" width="39.2" height="1.2" fill="#8f2c38"/>
 <g fill="#5cc7dc">
  <rect x="660.8" y="374.5" width="1.1" height="2.4"/><rect x="668" y="374.5" width="1.1" height="2.4"/><rect x="675" y="374.5" width="1.1" height="2.4"/>
  <rect x="655.9" y="382.6" width="1.6" height="3.2"/><rect x="667.7" y="382.6" width="1.6" height="3.2"/><rect x="679.5" y="382.6" width="1.6" height="3.2"/>
 </g>
 <g fill="#a9323f">
  <path d="M653.3,386 V384 Q656.7,380.5 660.2,384 V386 H658 V384 Q656.7,382.3 655.4,384 V386Z"/>
  <path d="M665.1,386 V384 Q668.5,380.5 672,384 V386 H669.8 V384 Q668.5,382.3 667.2,384 V386Z"/>
  <path d="M676.9,386 V384 Q680.3,380.5 683.8,384 V386 H681.6 V384 Q680.3,382.3 679,384 V386Z"/>
 </g>
 
 <g fill="#4fc3d8">
  <rect x="653.2" y="388.8" width="1.5" height="3"/><rect x="656.0" y="388.8" width="1.5" height="3"/><rect x="658.8" y="388.8" width="1.5" height="3"/><rect x="665.0" y="388.8" width="1.5" height="3"/><rect x="667.8" y="388.8" width="1.5" height="3"/><rect x="670.6" y="388.8" width="1.5" height="3"/><rect x="676.8" y="388.8" width="1.5" height="3"/><rect x="679.6" y="388.8" width="1.5" height="3"/><rect x="682.4" y="388.8" width="1.5" height="3"/>
  <rect x="653.2" y="394.3" width="1.5" height="3"/><rect x="656.0" y="394.3" width="1.5" height="3"/><rect x="658.8" y="394.3" width="1.5" height="3"/><rect x="665.0" y="394.3" width="1.5" height="3"/><rect x="667.8" y="394.3" width="1.5" height="3"/><rect x="670.6" y="394.3" width="1.5" height="3"/><rect x="676.8" y="394.3" width="1.5" height="3"/><rect x="679.6" y="394.3" width="1.5" height="3"/><rect x="682.4" y="394.3" width="1.5" height="3"/>
  <rect x="653.2" y="399.7" width="1.5" height="3"/><rect x="656.0" y="399.7" width="1.5" height="3"/><rect x="658.8" y="399.7" width="1.5" height="3"/><rect x="665.0" y="399.7" width="1.5" height="3"/><rect x="667.8" y="399.7" width="1.5" height="3"/><rect x="670.6" y="399.7" width="1.5" height="3"/><rect x="676.8" y="399.7" width="1.5" height="3"/><rect x="679.6" y="399.7" width="1.5" height="3"/><rect x="682.4" y="399.7" width="1.5" height="3"/>
 </g>
 <g fill="#6fd7e6">
  <rect x="653.5" y="406.3" width="6.8" height="3.6"/><rect x="665" y="406.3" width="7" height="3.6"/><rect x="676.8" y="406.3" width="7" height="3.6"/>
 </g>
 <!-- scales -->
 <rect x="642.9" y="384.6" width="0.9" height="19" fill="#6a4a2c"/>
 <path d="M636.8,389.6 Q640,387.3 643.3,388.4 Q646.6,387.3 649.5,389.6" fill="none" stroke="#6a4a2c" stroke-width="0.8"/>
 <path d="M640.2,403.2 H646.6 L647.4,405.8 H639.4 Z" fill="#c99a2e"/>
 <rect x="641.6" y="401.8" width="3.6" height="1.6" fill="#a87a22"/>
 <!-- books -->
 <rect x="635" y="406" width="20.5" height="5.6" rx="1.6" fill="#c8242f"/>
 <rect x="638.6" y="407.2" width="17" height="3.3" fill="#f3f1ee"/>
 <rect x="634.6" y="411.4" width="21.5" height="4.2" rx="0.8" fill="#d9d6d2"/>
 <rect x="635.5" y="412.2" width="20.6" height="2.4" fill="#f6f5f2"/>
 <rect x="634.6" y="414.8" width="21.5" height="0.9" fill="#b3262f"/>
 <!-- gavel -->
 <path d="M655,409 L663.6,414.4 L663,415.3 L654.4,410 Z" fill="#8a5a2b"/>
 <g transform="rotate(32 652.3 404.8)">
  <rect x="648.6" y="402.2" width="7.4" height="5.2" rx="0.8" fill="#7b4a22"/>
  <rect x="649.6" y="402" width="1.2" height="5.6" fill="#d6a838"/><rect x="653.8" y="402" width="1.2" height="5.6" fill="#d6a838"/>
 </g>
 <path d="M647.4,412.2 H654.6 L655.2,414.6 H646.8 Z" fill="#c99a2e"/>
 <rect x="646.4" y="414.3" width="9.2" height="1.1" fill="#a87a22"/>
</g>
<!-- hotel --><g>
<rect x="34.1" y="523.5" width="41.5" height="37.6" fill="#f8edd9"/>
<rect x="33" y="521.8" width="43.6" height="1.9" fill="#3c6d80"/>
<rect x="44.1" y="519.2" width="21.8" height="5" rx="0.6" fill="#e2553b"/>
<text x="55" y="523.3" font-size="3.6" font-weight="bold" fill="#fff" text-anchor="middle" textLength="15" lengthAdjust="spacingAndGlyphs">HOTEL</text>
<rect x="36.6" y="525.6" width="5.2" height="0.9" fill="#ef8a82"/>
<rect x="36.6" y="526.5" width="5.2" height="3.1" fill="#a9cfe2"/>
<rect x="36.6" y="527.8000000000001" width="5.2" height="0.5" fill="#d9ecf5"/>
<rect x="44.5" y="525.6" width="5.2" height="0.9" fill="#ef8a82"/>
<rect x="44.5" y="526.5" width="5.2" height="3.1" fill="#a9cfe2"/>
<rect x="44.5" y="527.8000000000001" width="5.2" height="0.5" fill="#d9ecf5"/>
<rect x="52.4" y="525.6" width="5.2" height="0.9" fill="#ef8a82"/>
<rect x="52.4" y="526.5" width="5.2" height="3.1" fill="#a9cfe2"/>
<rect x="52.4" y="527.8000000000001" width="5.2" height="0.5" fill="#d9ecf5"/>
<rect x="60.3" y="525.6" width="5.2" height="0.9" fill="#ef8a82"/>
<rect x="60.3" y="526.5" width="5.2" height="3.1" fill="#a9cfe2"/>
<rect x="60.3" y="527.8000000000001" width="5.2" height="0.5" fill="#d9ecf5"/>
<rect x="68.2" y="525.6" width="5.2" height="0.9" fill="#ef8a82"/>
<rect x="68.2" y="526.5" width="5.2" height="3.1" fill="#a9cfe2"/>
<rect x="68.2" y="527.8000000000001" width="5.2" height="0.5" fill="#d9ecf5"/>
<rect x="36.6" y="531.3" width="5.2" height="0.9" fill="#ef8a82"/>
<rect x="36.6" y="532.1999999999999" width="5.2" height="3.1" fill="#a9cfe2"/>
<rect x="36.6" y="533.5" width="5.2" height="0.5" fill="#d9ecf5"/>
<rect x="44.5" y="531.3" width="5.2" height="0.9" fill="#ef8a82"/>
<rect x="44.5" y="532.1999999999999" width="5.2" height="3.1" fill="#a9cfe2"/>
<rect x="44.5" y="533.5" width="5.2" height="0.5" fill="#d9ecf5"/>
<rect x="52.4" y="531.3" width="5.2" height="0.9" fill="#ef8a82"/>
<rect x="52.4" y="532.1999999999999" width="5.2" height="3.1" fill="#a9cfe2"/>
<rect x="52.4" y="533.5" width="5.2" height="0.5" fill="#d9ecf5"/>
<rect x="60.3" y="531.3" width="5.2" height="0.9" fill="#ef8a82"/>
<rect x="60.3" y="532.1999999999999" width="5.2" height="3.1" fill="#a9cfe2"/>
<rect x="60.3" y="533.5" width="5.2" height="0.5" fill="#d9ecf5"/>
<rect x="68.2" y="531.3" width="5.2" height="0.9" fill="#ef8a82"/>
<rect x="68.2" y="532.1999999999999" width="5.2" height="3.1" fill="#a9cfe2"/>
<rect x="68.2" y="533.5" width="5.2" height="0.5" fill="#d9ecf5"/>
<rect x="36.6" y="537" width="5.2" height="0.9" fill="#ef8a82"/>
<rect x="36.6" y="537.9" width="5.2" height="3.1" fill="#a9cfe2"/>
<rect x="36.6" y="539.2" width="5.2" height="0.5" fill="#d9ecf5"/>
<rect x="44.5" y="537" width="5.2" height="0.9" fill="#ef8a82"/>
<rect x="44.5" y="537.9" width="5.2" height="3.1" fill="#a9cfe2"/>
<rect x="44.5" y="539.2" width="5.2" height="0.5" fill="#d9ecf5"/>
<rect x="52.4" y="537" width="5.2" height="0.9" fill="#ef8a82"/>
<rect x="52.4" y="537.9" width="5.2" height="3.1" fill="#a9cfe2"/>
<rect x="52.4" y="539.2" width="5.2" height="0.5" fill="#d9ecf5"/>
<rect x="60.3" y="537" width="5.2" height="0.9" fill="#ef8a82"/>
<rect x="60.3" y="537.9" width="5.2" height="3.1" fill="#a9cfe2"/>
<rect x="60.3" y="539.2" width="5.2" height="0.5" fill="#d9ecf5"/>
<rect x="68.2" y="537" width="5.2" height="0.9" fill="#ef8a82"/>
<rect x="68.2" y="537.9" width="5.2" height="3.1" fill="#a9cfe2"/>
<rect x="68.2" y="539.2" width="5.2" height="0.5" fill="#d9ecf5"/>
<rect x="36.6" y="542.6" width="5.2" height="0.9" fill="#ef8a82"/>
<rect x="36.6" y="543.5" width="5.2" height="3.1" fill="#a9cfe2"/>
<rect x="36.6" y="544.8000000000001" width="5.2" height="0.5" fill="#d9ecf5"/>
<rect x="44.5" y="542.6" width="5.2" height="0.9" fill="#ef8a82"/>
<rect x="44.5" y="543.5" width="5.2" height="3.1" fill="#a9cfe2"/>
<rect x="44.5" y="544.8000000000001" width="5.2" height="0.5" fill="#d9ecf5"/>
<rect x="52.4" y="542.6" width="5.2" height="0.9" fill="#ef8a82"/>
<rect x="52.4" y="543.5" width="5.2" height="3.1" fill="#a9cfe2"/>
<rect x="52.4" y="544.8000000000001" width="5.2" height="0.5" fill="#d9ecf5"/>
<rect x="60.3" y="542.6" width="5.2" height="0.9" fill="#ef8a82"/>
<rect x="60.3" y="543.5" width="5.2" height="3.1" fill="#a9cfe2"/>
<rect x="60.3" y="544.8000000000001" width="5.2" height="0.5" fill="#d9ecf5"/>
<rect x="68.2" y="542.6" width="5.2" height="0.9" fill="#ef8a82"/>
<rect x="68.2" y="543.5" width="5.2" height="3.1" fill="#a9cfe2"/>
<rect x="68.2" y="544.8000000000001" width="5.2" height="0.5" fill="#d9ecf5"/>
<rect x="36.6" y="548.3" width="5.2" height="0.9" fill="#ef8a82"/>
<rect x="36.6" y="549.1999999999999" width="5.2" height="3.1" fill="#a9cfe2"/>
<rect x="36.6" y="550.5" width="5.2" height="0.5" fill="#d9ecf5"/>
<rect x="44.5" y="548.3" width="5.2" height="0.9" fill="#ef8a82"/>
<rect x="44.5" y="549.1999999999999" width="5.2" height="3.1" fill="#a9cfe2"/>
<rect x="44.5" y="550.5" width="5.2" height="0.5" fill="#d9ecf5"/>
<rect x="52.4" y="548.3" width="5.2" height="0.9" fill="#ef8a82"/>
<rect x="52.4" y="549.1999999999999" width="5.2" height="3.1" fill="#a9cfe2"/>
<rect x="52.4" y="550.5" width="5.2" height="0.5" fill="#d9ecf5"/>
<rect x="60.3" y="548.3" width="5.2" height="0.9" fill="#ef8a82"/>
<rect x="60.3" y="549.1999999999999" width="5.2" height="3.1" fill="#a9cfe2"/>
<rect x="60.3" y="550.5" width="5.2" height="0.5" fill="#d9ecf5"/>
<rect x="68.2" y="548.3" width="5.2" height="0.9" fill="#ef8a82"/>
<rect x="68.2" y="549.1999999999999" width="5.2" height="3.1" fill="#a9cfe2"/>
<rect x="68.2" y="550.5" width="5.2" height="0.5" fill="#d9ecf5"/>
<rect x="42.7" y="523.7" width="0.9" height="30" fill="#efe0c6"/>
<rect x="50.6" y="523.7" width="0.9" height="30" fill="#efe0c6"/>
<rect x="58.5" y="523.7" width="0.9" height="30" fill="#efe0c6"/>
<rect x="66.4" y="523.7" width="0.9" height="30" fill="#efe0c6"/>
<rect x="36.2" y="553.8" width="9.6" height="4.4" fill="#b5d3e3"/>
<rect x="64.2" y="553.8" width="9.6" height="4.4" fill="#b5d3e3"/>
<rect x="39.2" y="553.8" width="0.6" height="4.4" fill="#f8edd9"/>
<rect x="42.4" y="553.8" width="0.6" height="4.4" fill="#f8edd9"/>
<rect x="67.2" y="553.8" width="0.6" height="4.4" fill="#f8edd9"/>
<rect x="70.4" y="553.8" width="0.6" height="4.4" fill="#f8edd9"/>
<path d="M46.8,557 Q47,553.2 55,553.2 Q63,553.2 63.2,557 Z" fill="#e8413f"/>
<rect x="46.8" y="556.6" width="16.4" height="0.9" fill="#c9302f"/>
<rect x="49" y="557.5" width="12" height="3.6" fill="#c9dfea"/>
<rect x="51.3" y="557.5" width="0.8" height="3.6" fill="#f8edd9"/>
<rect x="54.7" y="557.5" width="0.8" height="3.6" fill="#f8edd9"/>
<rect x="58.1" y="557.5" width="0.8" height="3.6" fill="#f8edd9"/>
<circle cx="39.3" cy="558.2" r="1.6" fill="#4db04a"/>
<rect x="39.0" y="559.3" width="0.6" height="1.8" fill="#7a5a3a"/>
<circle cx="44.6" cy="558.2" r="1.6" fill="#4db04a"/>
<rect x="44.300000000000004" y="559.3" width="0.6" height="1.8" fill="#7a5a3a"/>
<circle cx="65.4" cy="558.2" r="1.6" fill="#4db04a"/>
<rect x="65.10000000000001" y="559.3" width="0.6" height="1.8" fill="#7a5a3a"/>
<circle cx="70.5" cy="558.2" r="1.6" fill="#4db04a"/>
<rect x="70.2" y="559.3" width="0.6" height="1.8" fill="#7a5a3a"/>
<ellipse cx="29.3" cy="556.5" rx="1.6" ry="3" fill="#4db04a"/>
<ellipse cx="79.2" cy="557.2" rx="1.1" ry="2.3" fill="#4db04a"/>
<rect x="28" y="560.7" width="52.8" height="1.1" fill="#3c6d80"/>
</g><!-- education: books + cap -->
<g>
 <!-- book5 orange -->
 <rect x="639.2" y="559.4" width="44.7" height="7.3" rx="0.8" fill="#e9604b"/>
 <rect x="670" y="559.9" width="6.4" height="6.3" fill="#f3efec"/>
 <rect x="683" y="559.9" width="1.4" height="6.3" fill="#f3efec"/>
 <!-- book4 teal -->
 <rect x="637.8" y="548.9" width="51.1" height="10.6" rx="0.9" fill="#3aa88f"/>
 <rect x="640.3" y="550" width="3.6" height="8.4" fill="#f3efec"/>
 <rect x="643.9" y="550" width="2" height="8.4" fill="#7a5fb0"/>
 <rect x="687" y="550" width="1.9" height="8.4" fill="#e8e4e0"/>
 <text x="666" y="556.5" font-size="4.6" font-weight="bold" fill="#eafaf5" text-anchor="middle" textLength="38" lengthAdjust="spacingAndGlyphs">FUTURE DESIGN •</text>
 <!-- book3 tan -->
 <path d="M642.2,543.3 H683 L685.5,541.8 V548.9 H642.2 Z" fill="#c9ab80"/>
 <!-- book2 purple -->
 <rect x="641.7" y="537.8" width="41.6" height="5.6" fill="#7a62b0"/>
 <rect x="641.7" y="537.8" width="4.4" height="5.6" fill="#f39a1f"/>
 <rect x="680.5" y="538.3" width="4.5" height="4.4" fill="#ece9e6"/>
 <!-- book1 slate -->
 <rect x="643" y="528.9" width="42.5" height="9" rx="0.8" fill="#4b4969"/>
 <rect x="646.6" y="528.9" width="7.8" height="9" fill="#9b9aa6"/>
 <rect x="673.6" y="530" width="11.9" height="6.8" fill="#f1eeec"/>
 <rect x="677.4" y="530" width="2" height="6.8" fill="#4b4969"/>
 <!-- cap -->
 <path d="M653.3,518 V528.4 L663.5,531 L673.9,528.4 V518 Z" fill="#2f2f31"/>
 <path d="M663.5,521 V531 L673.9,528.4 V518 Z" fill="#3b3b3e"/>
 <polygon points="643,516.7 662.8,513 682.8,516.7 663.3,520.6" fill="#3c3c3f"/>
 <circle cx="662.9" cy="515.2" r="0.9" fill="#cfcfd2"/>
 <path d="M663,515.3 L679.6,517.4 V526" fill="none" stroke="#2a2a2c" stroke-width="0.7"/>
 <rect x="678.5" y="525.5" width="2.2" height="19.6" rx="1" fill="#232325"/>
</g>
<!-- satellite dish -->
<g>
 <path d="M42.2,691 L39.6,701.2 H41.2 L43.4,693.5 L43.6,701.2 H45 L45.2,694.8 L47,701.2 H48.6 L46.2,691.5 Z" fill="#54575c"/>
 <path d="M37.2,701 H50 V702.4 H48.8 L50.8,710.6 H36.1 L38.3,702.4 H37.2 Z" fill="#8b8b8b"/>
 <rect x="37.2" y="701" width="12.8" height="1.4" fill="#77797c"/>
 <g transform="rotate(36 57.8 679.4)">
  <path d="M37.1,679.4 A20.7,19.5 0 0 0 78.5,679.4 Z" fill="#c8c8c8"/>
  <path d="M37.1,679.4 A20.7,19.5 0 0 0 50,697.5 Q42,689 40.5,679.4 Z" fill="#dadada"/>
  <ellipse cx="57.8" cy="679.4" rx="20.7" ry="10.6" fill="#ebebeb"/>
 </g>
 <line x1="57.8" y1="679.6" x2="69.2" y2="669.2" stroke="#b9b9b9" stroke-width="0.9"/>
 <circle cx="69.5" cy="668.7" r="1.7" fill="#d0d0d0"/>
</g>
<!-- hospital -->
<g>
 <rect x="638.9" y="676.7" width="10.2" height="27.2" fill="#dfe3e7"/>
 <rect x="675" y="676.7" width="10.3" height="27.2" fill="#dfe3e7"/>
 <rect x="637" y="673.9" width="12" height="3" fill="#e5484f"/>
 <rect x="675" y="673.9" width="11.7" height="3" fill="#e5484f"/>
 <rect x="641.4" y="680" width="4.2" height="21.2" fill="#5b9bd5"/>
 <rect x="678.1" y="680" width="4" height="21.2" fill="#5b9bd5"/>
 <rect x="648.9" y="665.6" width="26.3" height="38.3" fill="#f3f5f7"/>
 <rect x="646.3" y="663.3" width="30.9" height="2.9" rx="0.6" fill="#3a4149"/>
 <circle cx="662" cy="660.9" r="6.1" fill="#e0454d"/>
 <path d="M661,657.3 H663 V659.9 H665.6 V661.9 H663 V664.5 H661 V661.9 H658.4 V659.9 H661 Z" fill="#fff"/>
 <g fill="#5a9bd8">
  <rect x="652" y="669.2" width="4" height="4.5"/><rect x="660" y="669.2" width="4" height="4.5"/><rect x="668.3" y="669.2" width="4" height="4.5"/>
  <rect x="652" y="678.3" width="4" height="4.5"/><rect x="660" y="678.3" width="4" height="4.5"/><rect x="668.3" y="678.3" width="4" height="4.5"/>
  <rect x="652" y="687.2" width="4" height="4.5"/><rect x="660" y="687.2" width="4" height="4.5"/><rect x="668.3" y="687.2" width="4" height="4.5"/>
  <rect x="652" y="696.3" width="4" height="4.5"/><rect x="668.3" y="696.3" width="4" height="4.5"/>
 </g>
 <rect x="658.3" y="694.4" width="7.3" height="9.5" fill="#3a3f45"/>
 <rect x="635.2" y="703.7" width="53.7" height="3" fill="#8c979e"/>
</g>
<!-- real estate --><g>
<rect x="29.3" y="836" width="1.6" height="10.5" fill="#8a5a2b"/>
<circle cx="28.8" cy="833" r="4.6" fill="#35b234"/><circle cx="31.5" cy="836.5" r="2.6" fill="#2c9e2d"/><circle cx="27" cy="829.8" r="2.4" fill="#46c43f"/>
<polygon points="34,832 44.4,818.6 55.6,832 55.6,846 34,846" fill="#e9e9ec"/>
<polygon points="44.4,818.6 55.6,832 55.6,846 44.4,846" fill="#d4d4d9"/>
<rect x="50.6" y="818.3" width="3.3" height="7.5" fill="#f59a23"/>
<path d="M30.6,832.6 L44.4,815.4 L58.6,832.6 L56.6,833.6 L44.4,819 L32.6,833.6 Z" fill="#f59a23"/>
<rect x="37.4" y="833.6" width="4.6" height="5" fill="#f5a623"/><rect x="38.2" y="834.3" width="3" height="3.6" fill="#4a90d9"/>
<rect x="46.6" y="833.6" width="5" height="5" fill="#f5a623"/><rect x="47.4" y="834.3" width="3.4" height="3.6" fill="#4a90d9"/>
<rect x="44.6" y="840.5" width="5.6" height="6" fill="#f1c84a"/>
<rect x="37.4" y="838" width="2" height="8" fill="#f5a623"/>
<ellipse cx="57.3" cy="844.2" rx="2.8" ry="2.4" fill="#3fb63a"/>
<rect x="25" y="846" width="35" height="1.2" fill="#8a4a2b"/>
<rect x="55.6" y="848" width="27.8" height="1.8" fill="#2f6a6a"/>
<polygon points="56.1,814.6 62,811.2 62,848.6 56.1,848.6" fill="#3c6fc9"/>
<polygon points="62,811.2 65.2,813 65.2,848.6 62,848.6" fill="#27468f"/>
<polygon points="56.6,816.1 61.5,815.2 61.5,816.7 56.6,817.5" fill="#f2f4f8"/>
<polygon points="56.6,819.4 61.5,818.5 61.5,820.0 56.6,820.8" fill="#f2f4f8"/>
<polygon points="56.6,822.7 61.5,821.8 61.5,823.3 56.6,824.1" fill="#f2f4f8"/>
<polygon points="56.6,826.0 61.5,825.1 61.5,826.6 56.6,827.4" fill="#f2f4f8"/>
<polygon points="56.6,829.3 61.5,828.4 61.5,829.9 56.6,830.7" fill="#f2f4f8"/>
<polygon points="56.6,832.6 61.5,831.7 61.5,833.2 56.6,834.0" fill="#f2f4f8"/>
<polygon points="56.6,835.9 61.5,835.0 61.5,836.5 56.6,837.3" fill="#f2f4f8"/>
<polygon points="56.6,839.2 61.5,838.3 61.5,839.8 56.6,840.6" fill="#f2f4f8"/>
<polygon points="56.6,842.5 61.5,841.6 61.5,843.1 56.6,843.9" fill="#f2f4f8"/>
<polygon points="56.6,845.8 61.5,844.9 61.5,846.4 56.6,847.2" fill="#f2f4f8"/>
<rect x="66.3" y="808.9" width="7" height="40" fill="#a488c0"/>
<rect x="66.3" y="808.9" width="7" height="1" fill="#7e63a0"/>
<rect x="67.2" y="811.0" width="2.2" height="2" fill="#f3eff7"/><rect x="70.2" y="811.0" width="2.2" height="2" fill="#f3eff7"/>
<rect x="67.2" y="813.8" width="2.2" height="2" fill="#f3eff7"/><rect x="70.2" y="813.8" width="2.2" height="2" fill="#f3eff7"/>
<rect x="67.2" y="816.6" width="2.2" height="2" fill="#f3eff7"/><rect x="70.2" y="816.6" width="2.2" height="2" fill="#f3eff7"/>
<rect x="67.2" y="819.4" width="2.2" height="2" fill="#f3eff7"/><rect x="70.2" y="819.4" width="2.2" height="2" fill="#f3eff7"/>
<rect x="67.2" y="822.2" width="2.2" height="2" fill="#f3eff7"/><rect x="70.2" y="822.2" width="2.2" height="2" fill="#f3eff7"/>
<rect x="67.2" y="825.0" width="2.2" height="2" fill="#f3eff7"/><rect x="70.2" y="825.0" width="2.2" height="2" fill="#f3eff7"/>
<rect x="67.2" y="827.8" width="2.2" height="2" fill="#f3eff7"/><rect x="70.2" y="827.8" width="2.2" height="2" fill="#f3eff7"/>
<rect x="67.2" y="830.6" width="2.2" height="2" fill="#f3eff7"/><rect x="70.2" y="830.6" width="2.2" height="2" fill="#f3eff7"/>
<rect x="67.2" y="833.4" width="2.2" height="2" fill="#f3eff7"/><rect x="70.2" y="833.4" width="2.2" height="2" fill="#f3eff7"/>
<rect x="67.2" y="836.2" width="2.2" height="2" fill="#f3eff7"/><rect x="70.2" y="836.2" width="2.2" height="2" fill="#f3eff7"/>
<rect x="67.2" y="839.0" width="2.2" height="2" fill="#f3eff7"/><rect x="70.2" y="839.0" width="2.2" height="2" fill="#f3eff7"/>
<rect x="67.2" y="841.8" width="2.2" height="2" fill="#f3eff7"/><rect x="70.2" y="841.8" width="2.2" height="2" fill="#f3eff7"/>
<rect x="67.2" y="844.6" width="2.2" height="2" fill="#f3eff7"/><rect x="70.2" y="844.6" width="2.2" height="2" fill="#f3eff7"/>
<rect x="66.3" y="845.4" width="7" height="3.5" fill="#8a63a8"/>
<polygon points="73.3,825 77,822.6 82.8,824 82.8,848.9 73.3,848.9" fill="#d8901e"/>
<polygon points="73.3,825 77,822.6 77,848.9 73.3,848.9" fill="#b87412"/>
<rect x="77.4" y="830.2" width="5" height="1.9" fill="#f6efe2"/>
<rect x="77.4" y="833.6" width="5" height="1.9" fill="#f6efe2"/>
<rect x="77.4" y="837" width="5" height="1.9" fill="#f6efe2"/>
<rect x="77.4" y="840.4" width="5" height="1.9" fill="#f6efe2"/>
<ellipse cx="34.4" cy="827.2" rx="1.9" ry="2.5" fill="#111"/>
<path d="M33.0,830.3 H35.8 L37.6,847.3 H31.4 Z" fill="#111"/>
<rect x="32.699999999999996" y="846.8" width="1.2" height="7" fill="#111"/><rect x="34.9" y="846.8" width="1.2" height="7" fill="#111"/>
<rect x="32.1" y="853.3" width="1.9" height="0.9" fill="#111"/><rect x="34.8" y="853.3" width="1.9" height="0.9" fill="#111"/>
<ellipse cx="42.8" cy="826.2" rx="1.9" ry="2.5" fill="#111"/>
<path d="M40.599999999999994,831 Q40.599999999999994,830 41.599999999999994,830 H44.0 Q45.0,830 45.0,831 V847 H40.599999999999994 Z" fill="#111"/>
<rect x="41.099999999999994" y="846.5" width="1.2" height="7" fill="#111"/><rect x="43.3" y="846.5" width="1.2" height="7" fill="#111"/>
<rect x="40.5" y="853" width="1.9" height="0.9" fill="#111"/><rect x="43.199999999999996" y="853" width="1.9" height="0.9" fill="#111"/>
<ellipse cx="52.8" cy="826.8" rx="1.9" ry="2.5" fill="#111"/>
<path d="M50.699999999999996,831.5 Q50.699999999999996,830.5 51.699999999999996,830.5 H53.9 Q54.9,830.5 54.9,831.5 V847 H50.699999999999996 Z" fill="#111"/>
<rect x="51.099999999999994" y="846.5" width="1.2" height="7" fill="#111"/><rect x="53.3" y="846.5" width="1.2" height="7" fill="#111"/>
<rect x="50.5" y="853" width="1.9" height="0.9" fill="#111"/><rect x="53.199999999999996" y="853" width="1.9" height="0.9" fill="#111"/>
<path d="M45,832.5 L48.6,838.2 L50.8,834.2" fill="none" stroke="#111" stroke-width="1.3" stroke-linejoin="round"/>
<path d="M35.8,832 L38.2,838.5" fill="none" stroke="#111" stroke-width="1.1"/>
<path d="M37.8,836.4 L39.6,836.4 L39.6,845 L38.4,845 Z" fill="#f5a623"/>
</g><!-- amusement park --><g>
<path d="M682.8,826.8 L678.5999999999999,846.3 H680.0 L682.8,829.8 L685.5999999999999,846.3 H687.0 Z" fill="#d93a3a"/>
<line x1="682.8" y1="826.8" x2="682.8" y2="813.6" stroke="#e04545" stroke-width="0.9"/>
<line x1="682.8" y1="826.8" x2="688.9" y2="817.5" stroke="#e04545" stroke-width="0.9"/>
<line x1="682.8" y1="826.8" x2="691.4" y2="826.8" stroke="#e04545" stroke-width="0.9"/>
<line x1="682.8" y1="826.8" x2="688.9" y2="836.1" stroke="#e04545" stroke-width="0.9"/>
<line x1="682.8" y1="826.8" x2="682.8" y2="840.0" stroke="#e04545" stroke-width="0.9"/>
<line x1="682.8" y1="826.8" x2="676.7" y2="836.1" stroke="#e04545" stroke-width="0.9"/>
<line x1="682.8" y1="826.8" x2="674.2" y2="826.8" stroke="#e04545" stroke-width="0.9"/>
<line x1="682.8" y1="826.8" x2="676.7" y2="817.5" stroke="#e04545" stroke-width="0.9"/>
<ellipse cx="682.8" cy="826.8" rx="5.6" ry="8" fill="none" stroke="#e04545" stroke-width="1.3"/>
<ellipse cx="682.8" cy="826.8" rx="3.2" ry="4.6" fill="#f7c23a"/><ellipse cx="682.8" cy="826.8" rx="1.7" ry="2.4" fill="#f08a2a"/>
<circle cx="682.8" cy="812.6" r="2.2" fill="#3f9fd0"/>
<path d="M680.6,813.0 A2.2,2.2 0 0 0 685.0,813.0 Z" fill="#e8772a"/>
<circle cx="689.3" cy="816.8" r="2.2" fill="#3f9fd0"/>
<path d="M687.1,817.2 A2.2,2.2 0 0 0 691.5,817.2 Z" fill="#e8772a"/>
<circle cx="692.0" cy="826.8" r="2.2" fill="#3f9fd0"/>
<path d="M689.8,827.2 A2.2,2.2 0 0 0 694.2,827.2 Z" fill="#e8772a"/>
<circle cx="673.6" cy="826.8" r="2.2" fill="#3f9fd0"/>
<path d="M671.4,827.2 A2.2,2.2 0 0 0 675.8,827.2 Z" fill="#e8772a"/>
<circle cx="676.3" cy="816.8" r="2.2" fill="#3f9fd0"/>
<path d="M674.1,817.2 A2.2,2.2 0 0 0 678.5,817.2 Z" fill="#e8772a"/>
<rect x="640.3" y="812" width="10.5" height="27" fill="#f1d27c"/>
<rect x="640" y="811.2" width="11.1" height="1.4" fill="#5a4a52"/>
<path d="M641.3,811.2 Q645.5,806.6 649.8,811.2 Z" fill="#e8474b"/>
<rect x="644" y="814.2" width="6" height="1.5" fill="#3f8fb8"/>
<rect x="641.3" y="814.2" width="1.6" height="1.5" fill="#6bb0c8"/>
<rect x="644" y="816.9" width="6" height="1.5" fill="#3f8fb8"/>
<rect x="641.3" y="816.9" width="1.6" height="1.5" fill="#6bb0c8"/>
<rect x="644" y="819.6" width="6" height="1.5" fill="#3f8fb8"/>
<rect x="641.3" y="819.6" width="1.6" height="1.5" fill="#6bb0c8"/>
<rect x="644" y="822.3" width="6" height="1.5" fill="#3f8fb8"/>
<rect x="641.3" y="822.3" width="1.6" height="1.5" fill="#6bb0c8"/>
<rect x="644" y="825.0" width="6" height="1.5" fill="#3f8fb8"/>
<rect x="641.3" y="825.0" width="1.6" height="1.5" fill="#6bb0c8"/>
<rect x="644" y="827.7" width="6" height="1.5" fill="#3f8fb8"/>
<rect x="641.3" y="827.7" width="1.6" height="1.5" fill="#6bb0c8"/>
<rect x="644" y="830.4" width="6" height="1.5" fill="#3f8fb8"/>
<rect x="641.3" y="830.4" width="1.6" height="1.5" fill="#6bb0c8"/>
<rect x="644" y="833.1" width="6" height="1.5" fill="#3f8fb8"/>
<rect x="641.3" y="833.1" width="1.6" height="1.5" fill="#6bb0c8"/>
<rect x="644" y="835.8" width="6" height="1.5" fill="#3f8fb8"/>
<rect x="641.3" y="835.8" width="1.6" height="1.5" fill="#6bb0c8"/>
<rect x="651.6" y="824.6" width="7.8" height="13" fill="#86d2c8"/>
<path d="M651.4,824.8 Q655.5,818 659.6,824.8 Z" fill="#e8474b"/>
<rect x="655.3" y="816.6" width="0.5" height="4.4" fill="#8a5a5a"/><polygon points="655.8,816.6 658,817.5 655.8,818.6" fill="#e8474b"/>
<rect x="653" y="826.6" width="5.2" height="1.2" fill="#5ab0a8"/>
<rect x="653" y="829.4" width="5.2" height="1.2" fill="#5ab0a8"/>
<rect x="653" y="832.2" width="5.2" height="1.2" fill="#5ab0a8"/>
<rect x="650.4" y="835.6" width="9" height="10.8" fill="#e9c466"/>
<polygon points="649.4,836.2 654.8,830.6 660.4,836.2" fill="#e24a4a"/>
<rect x="651.4" y="838.2" width="1.2" height="1.8" fill="#5a5560"/>
<rect x="651.4" y="842" width="1.2" height="2.6" fill="#7a6a58"/>
<rect x="653.5" y="838.2" width="1.2" height="1.8" fill="#5a5560"/>
<rect x="653.5" y="842" width="1.2" height="2.6" fill="#7a6a58"/>
<rect x="655.6" y="838.2" width="1.2" height="1.8" fill="#5a5560"/>
<rect x="655.6" y="842" width="1.2" height="2.6" fill="#7a6a58"/>
<rect x="657.7" y="838.2" width="1.2" height="1.8" fill="#5a5560"/>
<rect x="657.7" y="842" width="1.2" height="2.6" fill="#7a6a58"/>
<path d="M636.6,846.3 V840.5 Q638.5,835.5 643,836.6 Q646,838 648,842 L650,846.3" fill="none" stroke="#2f3340" stroke-width="1.2"/>
<path d="M640.5,846.3 V838.5 M644.5,846.3 V838.2" stroke="#3fae9a" stroke-width="2.6" fill="none"/>
<rect x="637" y="840.6" width="6.4" height="5.7" fill="#f6c7cf"/><rect x="636.6" y="840" width="7.2" height="1.8" fill="#e8707e"/><rect x="638.4" y="842.8" width="3.4" height="3.5" fill="#a9809a"/>
<circle cx="638.8" cy="834.6" r="1.5" fill="#e8506a"/><circle cx="641.6" cy="833.8" r="1.5" fill="#f4a0b0"/><circle cx="644.6" cy="835.2" r="1.4" fill="#e8506a"/>
<ellipse cx="634.6" cy="843.25" rx="1.5" ry="3.75" fill="#7dbb3c"/>
<ellipse cx="660.3" cy="837.3" rx="2.0" ry="9.5" fill="#86c440"/>
<ellipse cx="663.3" cy="839.5" rx="1.6" ry="7.5" fill="#9bd05a"/>
<ellipse cx="679.4" cy="835.4" rx="2.3" ry="11.0" fill="#86c440"/>
<ellipse cx="693" cy="840.75" rx="2.3" ry="4.75" fill="#8cc63f"/>
<rect x="692.7" y="843" width="0.7" height="3.4" fill="#7a5a3a"/>
<ellipse cx="664.4" cy="816" rx="3.6" ry="5.8" fill="#f27474"/>
<path d="M662.6,811.4 Q661.6,816 663.4,821 M666.2,811.4 Q667.2,816 665.4,821" stroke="#fbb" stroke-width="0.8" fill="none"/>
<path d="M662.4,820.6 L664.4,823.4 L666.4,820.6 Z" fill="#e05a5a"/>
<rect x="663.6" y="823.6" width="1.6" height="2.2" fill="#9a5a3a"/>
<path d="M662.4,836.8 Q667.2,829.5 672.2,836.8 Z" fill="#5fc46a"/>
<rect x="667" y="829.6" width="0.5" height="2.4" fill="#888"/><polygon points="667.5,829.6 669,830.2 667.5,830.9" fill="#e8474b"/>
<rect x="662" y="836.4" width="10.6" height="1.8" fill="#4fc0c8"/>
<rect x="663" y="838.2" width="0.8" height="7" fill="#4fc0c8"/>
<rect x="666" y="838.2" width="0.8" height="7" fill="#4fc0c8"/>
<rect x="669" y="838.2" width="0.8" height="7" fill="#4fc0c8"/>
<rect x="671.4" y="838.2" width="0.8" height="7" fill="#4fc0c8"/>
<rect x="664.2" y="841" width="1.4" height="3.6" fill="#f28aa8"/><rect x="667.2" y="840.6" width="1.4" height="4" fill="#7dbb3c"/><rect x="669.8" y="841" width="1.2" height="3.6" fill="#f28aa8"/>
<rect x="662" y="844.8" width="10.6" height="1.5" fill="#f2859a"/>
<polygon points="673,835.6 676.1,832.6 679.2,835.6" fill="#3f8fd0"/>
<rect x="673" y="835.4" width="6.2" height="1.4" fill="#e8474b"/>
<rect x="673.6" y="836.8" width="5" height="8" fill="#f5d96a"/><rect x="674.8" y="836.8" width="1" height="8" fill="#e8474b"/><rect x="676.8" y="836.8" width="1" height="8" fill="#3f8fd0"/>
<rect x="672.8" y="844.6" width="6.6" height="1.7" fill="#e8604a"/>
<rect x="682.4" y="838" width="7.6" height="8.4" fill="#f3f3f3"/>
<polygon points="681.4,838.6 686.2,833.2 691,838.6" fill="#e24a4a"/>
<rect x="683.4" y="840.4" width="1.6" height="3.6" fill="#3a4a5a"/><rect x="685.8" y="840.4" width="1.6" height="3.6" fill="#3a4a5a"/><rect x="688.1" y="840.4" width="1.3" height="3.6" fill="#3a4a5a"/>
<rect x="679.6" y="841.6" width="2.8" height="4.8" fill="#f3f3f3"/><rect x="679.3" y="840.6" width="3.4" height="1.3" fill="#e24a4a"/>
<rect x="631.7" y="846.2" width="66.6" height="1.9" fill="#cbe328"/>
</g>
</g>
</svg>
</body></html>
